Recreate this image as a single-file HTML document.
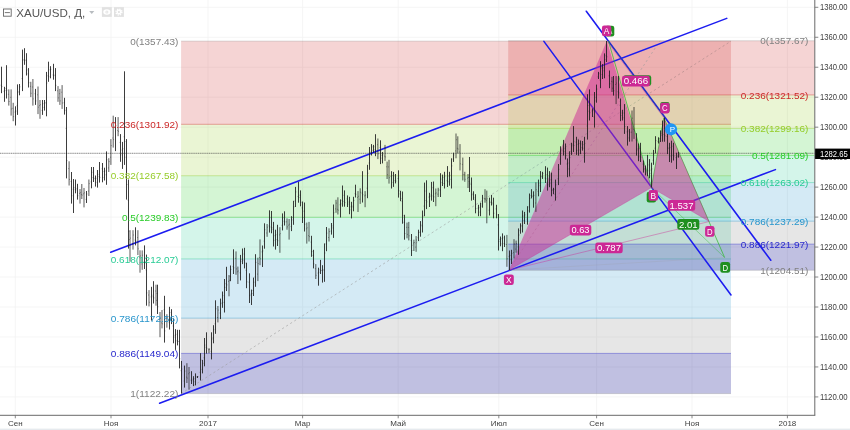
<!DOCTYPE html><html><head><meta charset="utf-8"><style>html,body{margin:0;padding:0;background:#fff;overflow:hidden}svg{display:block;opacity:0.999;will-change:transform}text{font-family:"Liberation Sans",sans-serif}</style></head><body>
<svg width="850" height="430" viewBox="0 0 850 430">
<rect width="850" height="430" fill="#fff"/>
<line x1="0" x2="814.8" y1="396.91" y2="396.91" stroke="#f2f2f2" stroke-width="0.8"/>
<line x1="0" x2="814.8" y1="366.94" y2="366.94" stroke="#f2f2f2" stroke-width="0.8"/>
<line x1="0" x2="814.8" y1="336.97" y2="336.97" stroke="#f2f2f2" stroke-width="0.8"/>
<line x1="0" x2="814.8" y1="307.00" y2="307.00" stroke="#f2f2f2" stroke-width="0.8"/>
<line x1="0" x2="814.8" y1="277.03" y2="277.03" stroke="#f2f2f2" stroke-width="0.8"/>
<line x1="0" x2="814.8" y1="247.06" y2="247.06" stroke="#f2f2f2" stroke-width="0.8"/>
<line x1="0" x2="814.8" y1="217.09" y2="217.09" stroke="#f2f2f2" stroke-width="0.8"/>
<line x1="0" x2="814.8" y1="187.12" y2="187.12" stroke="#f2f2f2" stroke-width="0.8"/>
<line x1="0" x2="814.8" y1="157.15" y2="157.15" stroke="#f2f2f2" stroke-width="0.8"/>
<line x1="0" x2="814.8" y1="127.18" y2="127.18" stroke="#f2f2f2" stroke-width="0.8"/>
<line x1="0" x2="814.8" y1="97.21" y2="97.21" stroke="#f2f2f2" stroke-width="0.8"/>
<line x1="0" x2="814.8" y1="67.24" y2="67.24" stroke="#f2f2f2" stroke-width="0.8"/>
<line x1="0" x2="814.8" y1="37.27" y2="37.27" stroke="#f2f2f2" stroke-width="0.8"/>
<line x1="0" x2="814.8" y1="7.30" y2="7.30" stroke="#f2f2f2" stroke-width="0.8"/>
<line x1="15.3" x2="15.3" y1="0" y2="415.3" stroke="#f2f2f2" stroke-width="0.8"/>
<line x1="111" x2="111" y1="0" y2="415.3" stroke="#f2f2f2" stroke-width="0.8"/>
<line x1="208" x2="208" y1="0" y2="415.3" stroke="#f2f2f2" stroke-width="0.8"/>
<line x1="302.6" x2="302.6" y1="0" y2="415.3" stroke="#f2f2f2" stroke-width="0.8"/>
<line x1="398.2" x2="398.2" y1="0" y2="415.3" stroke="#f2f2f2" stroke-width="0.8"/>
<line x1="498.8" x2="498.8" y1="0" y2="415.3" stroke="#f2f2f2" stroke-width="0.8"/>
<line x1="596.6" x2="596.6" y1="0" y2="415.3" stroke="#f2f2f2" stroke-width="0.8"/>
<line x1="692" x2="692" y1="0" y2="415.3" stroke="#f2f2f2" stroke-width="0.8"/>
<line x1="787.4" x2="787.4" y1="0" y2="415.3" stroke="#f2f2f2" stroke-width="0.8"/>
<rect x="181.1" y="41.12" width="549.90" height="83.18" fill="#cc2828" fill-opacity="0.2"/>
<rect x="181.1" y="124.30" width="549.90" height="51.46" fill="#95cc28" fill-opacity="0.2"/>
<rect x="181.1" y="175.76" width="549.90" height="41.58" fill="#28cc28" fill-opacity="0.2"/>
<rect x="181.1" y="217.34" width="549.90" height="41.60" fill="#28cc95" fill-opacity="0.2"/>
<rect x="181.1" y="258.94" width="549.90" height="59.21" fill="#2895cc" fill-opacity="0.2"/>
<rect x="181.1" y="318.15" width="549.90" height="75.43" fill="#808080" fill-opacity="0.2"/>
<rect x="181.1" y="353.39" width="549.90" height="40.19" fill="#2828cc" fill-opacity="0.2"/>
<line x1="181.1" x2="731" y1="41.12" y2="41.12" stroke="#808080" stroke-width="0.65" stroke-opacity="0.42"/>
<line x1="181.1" x2="731" y1="124.30" y2="124.30" stroke="#cc2828" stroke-width="0.65" stroke-opacity="0.6"/>
<line x1="181.1" x2="731" y1="175.76" y2="175.76" stroke="#95cc28" stroke-width="0.65" stroke-opacity="0.6"/>
<line x1="181.1" x2="731" y1="217.34" y2="217.34" stroke="#28cc28" stroke-width="0.65" stroke-opacity="0.6"/>
<line x1="181.1" x2="731" y1="258.94" y2="258.94" stroke="#28cc95" stroke-width="0.65" stroke-opacity="0.6"/>
<line x1="181.1" x2="731" y1="318.15" y2="318.15" stroke="#2895cc" stroke-width="0.65" stroke-opacity="0.6"/>
<line x1="181.1" x2="731" y1="353.39" y2="353.39" stroke="#2828cc" stroke-width="0.65" stroke-opacity="0.6"/>
<line x1="181.1" x2="731" y1="393.58" y2="393.58" stroke="#808080" stroke-width="0.65" stroke-opacity="0.42"/>
<line x1="181.1" y1="393.58332999999993" x2="731" y2="41.1211449999999" stroke="#999" stroke-width="0.7" stroke-dasharray="2.2 2.6" stroke-opacity="0.8"/>
<rect x="508.2" y="40.76" width="306.60" height="54.17" fill="#cc2828" fill-opacity="0.2"/>
<rect x="508.2" y="94.93" width="306.60" height="33.51" fill="#95cc28" fill-opacity="0.2"/>
<rect x="508.2" y="128.44" width="306.60" height="27.08" fill="#28cc28" fill-opacity="0.2"/>
<rect x="508.2" y="155.52" width="306.60" height="27.08" fill="#28cc95" fill-opacity="0.2"/>
<rect x="508.2" y="182.59" width="306.60" height="38.56" fill="#2895cc" fill-opacity="0.2"/>
<rect x="508.2" y="221.15" width="306.60" height="49.12" fill="#808080" fill-opacity="0.2"/>
<rect x="508.2" y="244.11" width="306.60" height="26.16" fill="#2828cc" fill-opacity="0.2"/>
<line x1="508.2" x2="814.8" y1="40.76" y2="40.76" stroke="#808080" stroke-width="0.65" stroke-opacity="0.42"/>
<line x1="508.2" x2="814.8" y1="94.93" y2="94.93" stroke="#cc2828" stroke-width="0.65" stroke-opacity="0.6"/>
<line x1="508.2" x2="814.8" y1="128.44" y2="128.44" stroke="#95cc28" stroke-width="0.65" stroke-opacity="0.6"/>
<line x1="508.2" x2="814.8" y1="155.52" y2="155.52" stroke="#28cc28" stroke-width="0.65" stroke-opacity="0.6"/>
<line x1="508.2" x2="814.8" y1="182.59" y2="182.59" stroke="#28cc95" stroke-width="0.65" stroke-opacity="0.6"/>
<line x1="508.2" x2="814.8" y1="221.15" y2="221.15" stroke="#2895cc" stroke-width="0.65" stroke-opacity="0.6"/>
<line x1="508.2" x2="814.8" y1="244.11" y2="244.11" stroke="#2828cc" stroke-width="0.65" stroke-opacity="0.6"/>
<line x1="508.2" x2="814.8" y1="270.27" y2="270.27" stroke="#808080" stroke-width="0.65" stroke-opacity="0.42"/>
<line x1="508.7" y1="270.271765" x2="660" y2="40.761504999999886" stroke="#999" stroke-width="0.7" stroke-dasharray="2.2 2.6" stroke-opacity="0.8"/>
<line x1="0" x2="814.8" y1="153.3" y2="153.3" stroke="#555" stroke-width="0.8" stroke-opacity="0.38"/>
<line x1="0" x2="814.8" y1="153.3" y2="153.3" stroke="#222" stroke-width="0.8" stroke-dasharray="1 1.2" stroke-opacity="0.45"/>
<line x1="110.7" y1="252.2" x2="726.7" y2="18.4" stroke="#1c1cf0" stroke-width="1.55" stroke-opacity="1" stroke-linecap="round"/>
<line x1="159.6" y1="403.2" x2="775.4" y2="169.6" stroke="#1c1cf0" stroke-width="1.55" stroke-opacity="1" stroke-linecap="round"/>
<line x1="586.3" y1="11.2" x2="770.8" y2="260.3" stroke="#1c1cf0" stroke-width="1.55" stroke-opacity="1" stroke-linecap="round"/>
<line x1="543.9" y1="41.4" x2="731" y2="295" stroke="#1c1cf0" stroke-width="1.55" stroke-opacity="1" stroke-linecap="round"/>
<polyline points="608.4,41.0 651.4,187.6 663.9,117.9 724.6,257.5" fill="none" stroke="#2db82d" stroke-width="0.8" stroke-opacity="0.9" stroke-linejoin="round"/>
<polyline points="651.4,187.6 724.6,257.5" fill="none" stroke="#2db82d" stroke-width="0.5" stroke-opacity="0.8" stroke-linejoin="round"/>
<polyline points="608.4,41.0 665.1,117.9" fill="none" stroke="#3a7a3a" stroke-width="0.7" stroke-opacity="0.55" stroke-linejoin="round"/>
<polyline points="509.0,270.1 724.6,257.5" fill="none" stroke="#999" stroke-width="0.4" stroke-opacity="0.5" stroke-linejoin="round"/>
<polygon points="509.0,270.1 606.8,41.0 651.4,187.6" fill="#cc2895" fill-opacity="0.5"/>
<polygon points="651.4,187.6 663.9,117.9 709.3,221.5" fill="#cc2895" fill-opacity="0.5"/>
<polyline points="509.0,270.1 651.4,187.6" fill="none" stroke="#cc2895" stroke-width="0.5" stroke-opacity="0.7" stroke-linejoin="round"/>
<polyline points="606.8,41.0 663.9,117.9" fill="none" stroke="#cc2895" stroke-width="0.5" stroke-opacity="0.7" stroke-linejoin="round"/>
<polyline points="651.4,187.6 709.3,221.5" fill="none" stroke="#cc2895" stroke-width="0.5" stroke-opacity="0.7" stroke-linejoin="round"/>
<polyline points="509.0,270.1 709.3,221.5" fill="none" stroke="#cc2895" stroke-width="0.6" stroke-opacity="0.7" stroke-linejoin="round"/>
<line x1="1.5" x2="1.5" y1="66.7" y2="93.2" stroke="#1a1a1a" stroke-width="0.85"/>
<line x1="1.5" x2="2.4" y1="86.6" y2="86.6" stroke="#1a1a1a" stroke-width="0.7" stroke-opacity="0.55"/>
<line x1="0.6" x2="1.5" y1="85.2" y2="85.2" stroke="#1a1a1a" stroke-width="0.7" stroke-opacity="0.55"/>
<line x1="4.5" x2="4.5" y1="86.8" y2="101.8" stroke="#1a1a1a" stroke-width="0.85"/>
<line x1="4.5" x2="5.4" y1="90.5" y2="90.5" stroke="#1a1a1a" stroke-width="0.7" stroke-opacity="0.55"/>
<line x1="3.6" x2="4.5" y1="91.3" y2="91.3" stroke="#1a1a1a" stroke-width="0.7" stroke-opacity="0.55"/>
<line x1="6.5" x2="6.5" y1="65.2" y2="98.5" stroke="#1a1a1a" stroke-width="0.85"/>
<line x1="6.5" x2="7.4" y1="90.2" y2="90.2" stroke="#1a1a1a" stroke-width="0.7" stroke-opacity="0.55"/>
<line x1="5.6" x2="6.5" y1="88.5" y2="88.5" stroke="#1a1a1a" stroke-width="0.7" stroke-opacity="0.55"/>
<line x1="8.8" x2="8.8" y1="89.4" y2="105.6" stroke="#1a1a1a" stroke-width="0.72"/>
<line x1="8.8" x2="9.7" y1="101.5" y2="101.5" stroke="#1a1a1a" stroke-width="0.7" stroke-opacity="0.55"/>
<line x1="7.9" x2="8.8" y1="94.3" y2="94.3" stroke="#1a1a1a" stroke-width="0.7" stroke-opacity="0.55"/>
<line x1="11.1" x2="11.1" y1="89.4" y2="115.6" stroke="#1a1a1a" stroke-width="0.72"/>
<line x1="11.1" x2="12.0" y1="109.0" y2="109.0" stroke="#1a1a1a" stroke-width="0.7" stroke-opacity="0.55"/>
<line x1="10.2" x2="11.1" y1="97.3" y2="97.3" stroke="#1a1a1a" stroke-width="0.7" stroke-opacity="0.55"/>
<line x1="13.2" x2="13.2" y1="102.8" y2="121.2" stroke="#1a1a1a" stroke-width="0.72"/>
<line x1="13.2" x2="14.1" y1="116.6" y2="116.6" stroke="#1a1a1a" stroke-width="0.7" stroke-opacity="0.55"/>
<line x1="12.3" x2="13.2" y1="108.3" y2="108.3" stroke="#1a1a1a" stroke-width="0.7" stroke-opacity="0.55"/>
<line x1="15.5" x2="15.5" y1="106.3" y2="125.5" stroke="#1a1a1a" stroke-width="0.85"/>
<line x1="15.5" x2="16.4" y1="111.1" y2="111.1" stroke="#1a1a1a" stroke-width="0.7" stroke-opacity="0.55"/>
<line x1="14.6" x2="15.5" y1="112.1" y2="112.1" stroke="#1a1a1a" stroke-width="0.7" stroke-opacity="0.55"/>
<line x1="17.5" x2="17.5" y1="84.4" y2="114.9" stroke="#1a1a1a" stroke-width="0.85"/>
<line x1="17.5" x2="18.4" y1="92.0" y2="92.0" stroke="#1a1a1a" stroke-width="0.7" stroke-opacity="0.55"/>
<line x1="16.6" x2="17.5" y1="105.8" y2="105.8" stroke="#1a1a1a" stroke-width="0.7" stroke-opacity="0.55"/>
<line x1="19.5" x2="19.5" y1="84.0" y2="95.3" stroke="#1a1a1a" stroke-width="0.85"/>
<line x1="19.5" x2="20.4" y1="86.8" y2="86.8" stroke="#1a1a1a" stroke-width="0.7" stroke-opacity="0.55"/>
<line x1="18.6" x2="19.5" y1="91.9" y2="91.9" stroke="#1a1a1a" stroke-width="0.7" stroke-opacity="0.55"/>
<line x1="22.5" x2="22.5" y1="49.6" y2="91.1" stroke="#1a1a1a" stroke-width="0.85"/>
<line x1="22.5" x2="23.4" y1="60.0" y2="60.0" stroke="#1a1a1a" stroke-width="0.7" stroke-opacity="0.55"/>
<line x1="21.6" x2="22.5" y1="78.6" y2="78.6" stroke="#1a1a1a" stroke-width="0.7" stroke-opacity="0.55"/>
<line x1="24.5" x2="24.5" y1="48.2" y2="64.8" stroke="#1a1a1a" stroke-width="0.85"/>
<line x1="24.5" x2="25.4" y1="60.6" y2="60.6" stroke="#1a1a1a" stroke-width="0.7" stroke-opacity="0.55"/>
<line x1="23.6" x2="24.5" y1="59.8" y2="59.8" stroke="#1a1a1a" stroke-width="0.7" stroke-opacity="0.55"/>
<line x1="26.5" x2="26.5" y1="53.2" y2="75.5" stroke="#1a1a1a" stroke-width="0.85"/>
<line x1="26.5" x2="27.4" y1="69.9" y2="69.9" stroke="#1a1a1a" stroke-width="0.7" stroke-opacity="0.55"/>
<line x1="25.6" x2="26.5" y1="59.9" y2="59.9" stroke="#1a1a1a" stroke-width="0.7" stroke-opacity="0.55"/>
<line x1="28.5" x2="28.5" y1="68.1" y2="87.5" stroke="#1a1a1a" stroke-width="0.85"/>
<line x1="28.5" x2="29.4" y1="82.7" y2="82.7" stroke="#1a1a1a" stroke-width="0.7" stroke-opacity="0.55"/>
<line x1="27.6" x2="28.5" y1="73.9" y2="73.9" stroke="#1a1a1a" stroke-width="0.7" stroke-opacity="0.55"/>
<line x1="30.8" x2="30.8" y1="81.8" y2="97.1" stroke="#1a1a1a" stroke-width="0.72"/>
<line x1="30.8" x2="31.7" y1="93.3" y2="93.3" stroke="#1a1a1a" stroke-width="0.7" stroke-opacity="0.55"/>
<line x1="29.9" x2="30.8" y1="86.4" y2="86.4" stroke="#1a1a1a" stroke-width="0.7" stroke-opacity="0.55"/>
<line x1="32.9" x2="32.9" y1="79.0" y2="105.6" stroke="#1a1a1a" stroke-width="0.72"/>
<line x1="32.9" x2="33.8" y1="98.9" y2="98.9" stroke="#1a1a1a" stroke-width="0.7" stroke-opacity="0.55"/>
<line x1="32.0" x2="32.9" y1="87.0" y2="87.0" stroke="#1a1a1a" stroke-width="0.7" stroke-opacity="0.55"/>
<line x1="35.5" x2="35.5" y1="88.9" y2="104.9" stroke="#1a1a1a" stroke-width="0.85"/>
<line x1="35.5" x2="36.4" y1="100.9" y2="100.9" stroke="#1a1a1a" stroke-width="0.7" stroke-opacity="0.55"/>
<line x1="34.6" x2="35.5" y1="93.7" y2="93.7" stroke="#1a1a1a" stroke-width="0.7" stroke-opacity="0.55"/>
<line x1="38.0" x2="38.0" y1="86.5" y2="114.1" stroke="#1a1a1a" stroke-width="0.72"/>
<line x1="38.0" x2="38.9" y1="107.2" y2="107.2" stroke="#1a1a1a" stroke-width="0.7" stroke-opacity="0.55"/>
<line x1="37.1" x2="38.0" y1="94.8" y2="94.8" stroke="#1a1a1a" stroke-width="0.7" stroke-opacity="0.55"/>
<line x1="40.0" x2="40.0" y1="100.0" y2="118.8" stroke="#1a1a1a" stroke-width="0.72"/>
<line x1="40.0" x2="40.9" y1="104.7" y2="104.7" stroke="#1a1a1a" stroke-width="0.7" stroke-opacity="0.55"/>
<line x1="39.1" x2="40.0" y1="105.6" y2="105.6" stroke="#1a1a1a" stroke-width="0.7" stroke-opacity="0.55"/>
<line x1="42.5" x2="42.5" y1="100.0" y2="114.9" stroke="#1a1a1a" stroke-width="0.85"/>
<line x1="42.5" x2="43.4" y1="103.7" y2="103.7" stroke="#1a1a1a" stroke-width="0.7" stroke-opacity="0.55"/>
<line x1="41.6" x2="42.5" y1="110.4" y2="110.4" stroke="#1a1a1a" stroke-width="0.7" stroke-opacity="0.55"/>
<line x1="44.5" x2="44.5" y1="100.0" y2="110.6" stroke="#1a1a1a" stroke-width="0.85"/>
<line x1="44.5" x2="45.4" y1="102.7" y2="102.7" stroke="#1a1a1a" stroke-width="0.7" stroke-opacity="0.55"/>
<line x1="43.6" x2="44.5" y1="107.4" y2="107.4" stroke="#1a1a1a" stroke-width="0.7" stroke-opacity="0.55"/>
<line x1="46.5" x2="46.5" y1="71.9" y2="116.3" stroke="#1a1a1a" stroke-width="0.85"/>
<line x1="46.5" x2="47.4" y1="83.0" y2="83.0" stroke="#1a1a1a" stroke-width="0.7" stroke-opacity="0.55"/>
<line x1="45.6" x2="46.5" y1="103.0" y2="103.0" stroke="#1a1a1a" stroke-width="0.7" stroke-opacity="0.55"/>
<line x1="48.5" x2="48.5" y1="61.7" y2="81.8" stroke="#1a1a1a" stroke-width="0.85"/>
<line x1="48.5" x2="49.4" y1="76.8" y2="76.8" stroke="#1a1a1a" stroke-width="0.7" stroke-opacity="0.55"/>
<line x1="47.6" x2="48.5" y1="75.8" y2="75.8" stroke="#1a1a1a" stroke-width="0.7" stroke-opacity="0.55"/>
<line x1="50.5" x2="50.5" y1="66.2" y2="78.3" stroke="#1a1a1a" stroke-width="0.85"/>
<line x1="50.5" x2="51.4" y1="69.2" y2="69.2" stroke="#1a1a1a" stroke-width="0.7" stroke-opacity="0.55"/>
<line x1="49.6" x2="50.5" y1="69.8" y2="69.8" stroke="#1a1a1a" stroke-width="0.7" stroke-opacity="0.55"/>
<line x1="53.5" x2="53.5" y1="63.8" y2="79.7" stroke="#1a1a1a" stroke-width="0.85"/>
<line x1="53.5" x2="54.4" y1="75.7" y2="75.7" stroke="#1a1a1a" stroke-width="0.7" stroke-opacity="0.55"/>
<line x1="52.6" x2="53.5" y1="74.9" y2="74.9" stroke="#1a1a1a" stroke-width="0.7" stroke-opacity="0.55"/>
<line x1="55.5" x2="55.5" y1="68.1" y2="91.1" stroke="#1a1a1a" stroke-width="0.85"/>
<line x1="55.5" x2="56.4" y1="85.3" y2="85.3" stroke="#1a1a1a" stroke-width="0.7" stroke-opacity="0.55"/>
<line x1="54.6" x2="55.5" y1="75.0" y2="75.0" stroke="#1a1a1a" stroke-width="0.7" stroke-opacity="0.55"/>
<line x1="58.0" x2="58.0" y1="86.1" y2="101.8" stroke="#1a1a1a" stroke-width="0.72"/>
<line x1="58.0" x2="58.9" y1="97.9" y2="97.9" stroke="#1a1a1a" stroke-width="0.7" stroke-opacity="0.55"/>
<line x1="57.1" x2="58.0" y1="90.8" y2="90.8" stroke="#1a1a1a" stroke-width="0.7" stroke-opacity="0.55"/>
<line x1="59.9" x2="59.9" y1="88.9" y2="104.9" stroke="#1a1a1a" stroke-width="0.72"/>
<line x1="59.9" x2="60.8" y1="100.9" y2="100.9" stroke="#1a1a1a" stroke-width="0.7" stroke-opacity="0.55"/>
<line x1="59.0" x2="59.9" y1="93.7" y2="93.7" stroke="#1a1a1a" stroke-width="0.7" stroke-opacity="0.55"/>
<line x1="62.1" x2="62.1" y1="85.1" y2="108.9" stroke="#1a1a1a" stroke-width="0.72"/>
<line x1="62.1" x2="63.0" y1="103.0" y2="103.0" stroke="#1a1a1a" stroke-width="0.7" stroke-opacity="0.55"/>
<line x1="61.2" x2="62.1" y1="92.2" y2="92.2" stroke="#1a1a1a" stroke-width="0.7" stroke-opacity="0.55"/>
<line x1="64.5" x2="64.5" y1="97.8" y2="114.6" stroke="#1a1a1a" stroke-width="0.85"/>
<line x1="64.5" x2="65.4" y1="110.4" y2="110.4" stroke="#1a1a1a" stroke-width="0.7" stroke-opacity="0.55"/>
<line x1="63.6" x2="64.5" y1="102.8" y2="102.8" stroke="#1a1a1a" stroke-width="0.7" stroke-opacity="0.55"/>
<line x1="66.5" x2="66.5" y1="107.0" y2="178.4" stroke="#1a1a1a" stroke-width="0.85"/>
<line x1="66.5" x2="67.4" y1="160.6" y2="160.6" stroke="#1a1a1a" stroke-width="0.7" stroke-opacity="0.55"/>
<line x1="65.6" x2="66.5" y1="128.4" y2="128.4" stroke="#1a1a1a" stroke-width="0.7" stroke-opacity="0.55"/>
<line x1="69.1" x2="69.1" y1="161.3" y2="185.5" stroke="#1a1a1a" stroke-width="0.72"/>
<line x1="69.1" x2="70.0" y1="179.4" y2="179.4" stroke="#1a1a1a" stroke-width="0.7" stroke-opacity="0.55"/>
<line x1="68.2" x2="69.1" y1="168.6" y2="168.6" stroke="#1a1a1a" stroke-width="0.7" stroke-opacity="0.55"/>
<line x1="71.5" x2="71.5" y1="172.0" y2="203.6" stroke="#1a1a1a" stroke-width="0.85"/>
<line x1="71.5" x2="72.4" y1="195.7" y2="195.7" stroke="#1a1a1a" stroke-width="0.7" stroke-opacity="0.55"/>
<line x1="70.6" x2="71.5" y1="181.5" y2="181.5" stroke="#1a1a1a" stroke-width="0.7" stroke-opacity="0.55"/>
<line x1="73.5" x2="73.5" y1="179.0" y2="213.0" stroke="#1a1a1a" stroke-width="0.85"/>
<line x1="73.5" x2="74.4" y1="187.5" y2="187.5" stroke="#1a1a1a" stroke-width="0.7" stroke-opacity="0.55"/>
<line x1="72.6" x2="73.5" y1="189.2" y2="189.2" stroke="#1a1a1a" stroke-width="0.7" stroke-opacity="0.55"/>
<line x1="75.5" x2="75.5" y1="179.5" y2="193.3" stroke="#1a1a1a" stroke-width="0.85"/>
<line x1="75.5" x2="76.4" y1="189.9" y2="189.9" stroke="#1a1a1a" stroke-width="0.7" stroke-opacity="0.55"/>
<line x1="74.6" x2="75.5" y1="189.2" y2="189.2" stroke="#1a1a1a" stroke-width="0.7" stroke-opacity="0.55"/>
<line x1="77.5" x2="77.5" y1="183.8" y2="199.6" stroke="#1a1a1a" stroke-width="0.85"/>
<line x1="77.5" x2="78.4" y1="195.7" y2="195.7" stroke="#1a1a1a" stroke-width="0.7" stroke-opacity="0.55"/>
<line x1="76.6" x2="77.5" y1="188.5" y2="188.5" stroke="#1a1a1a" stroke-width="0.7" stroke-opacity="0.55"/>
<line x1="80.0" x2="80.0" y1="189.0" y2="203.6" stroke="#1a1a1a" stroke-width="0.72"/>
<line x1="80.0" x2="80.9" y1="192.7" y2="192.7" stroke="#1a1a1a" stroke-width="0.7" stroke-opacity="0.55"/>
<line x1="79.1" x2="80.0" y1="193.4" y2="193.4" stroke="#1a1a1a" stroke-width="0.7" stroke-opacity="0.55"/>
<line x1="81.8" x2="81.8" y1="184.0" y2="199.0" stroke="#1a1a1a" stroke-width="0.72"/>
<line x1="81.8" x2="82.7" y1="195.2" y2="195.2" stroke="#1a1a1a" stroke-width="0.7" stroke-opacity="0.55"/>
<line x1="80.9" x2="81.8" y1="194.5" y2="194.5" stroke="#1a1a1a" stroke-width="0.7" stroke-opacity="0.55"/>
<line x1="84.0" x2="84.0" y1="188.0" y2="207.4" stroke="#1a1a1a" stroke-width="0.72"/>
<line x1="84.0" x2="84.9" y1="192.8" y2="192.8" stroke="#1a1a1a" stroke-width="0.7" stroke-opacity="0.55"/>
<line x1="83.1" x2="84.0" y1="193.8" y2="193.8" stroke="#1a1a1a" stroke-width="0.7" stroke-opacity="0.55"/>
<line x1="86.5" x2="86.5" y1="191.0" y2="203.0" stroke="#1a1a1a" stroke-width="0.85"/>
<line x1="86.5" x2="87.4" y1="194.0" y2="194.0" stroke="#1a1a1a" stroke-width="0.7" stroke-opacity="0.55"/>
<line x1="85.6" x2="86.5" y1="199.4" y2="199.4" stroke="#1a1a1a" stroke-width="0.7" stroke-opacity="0.55"/>
<line x1="88.9" x2="88.9" y1="179.5" y2="196.0" stroke="#1a1a1a" stroke-width="0.72"/>
<line x1="88.9" x2="89.8" y1="183.6" y2="183.6" stroke="#1a1a1a" stroke-width="0.7" stroke-opacity="0.55"/>
<line x1="88.0" x2="88.9" y1="191.1" y2="191.1" stroke="#1a1a1a" stroke-width="0.7" stroke-opacity="0.55"/>
<line x1="91.5" x2="91.5" y1="167.0" y2="188.3" stroke="#1a1a1a" stroke-width="0.85"/>
<line x1="91.5" x2="92.4" y1="172.3" y2="172.3" stroke="#1a1a1a" stroke-width="0.7" stroke-opacity="0.55"/>
<line x1="90.6" x2="91.5" y1="181.9" y2="181.9" stroke="#1a1a1a" stroke-width="0.7" stroke-opacity="0.55"/>
<line x1="93.5" x2="93.5" y1="167.0" y2="182.0" stroke="#1a1a1a" stroke-width="0.85"/>
<line x1="93.5" x2="94.4" y1="178.2" y2="178.2" stroke="#1a1a1a" stroke-width="0.7" stroke-opacity="0.55"/>
<line x1="92.6" x2="93.5" y1="177.5" y2="177.5" stroke="#1a1a1a" stroke-width="0.7" stroke-opacity="0.55"/>
<line x1="95.5" x2="95.5" y1="175.5" y2="186.6" stroke="#1a1a1a" stroke-width="0.85"/>
<line x1="95.5" x2="96.4" y1="178.3" y2="178.3" stroke="#1a1a1a" stroke-width="0.7" stroke-opacity="0.55"/>
<line x1="94.6" x2="95.5" y1="178.8" y2="178.8" stroke="#1a1a1a" stroke-width="0.7" stroke-opacity="0.55"/>
<line x1="97.5" x2="97.5" y1="170.0" y2="187.6" stroke="#1a1a1a" stroke-width="0.85"/>
<line x1="97.5" x2="98.4" y1="174.4" y2="174.4" stroke="#1a1a1a" stroke-width="0.7" stroke-opacity="0.55"/>
<line x1="96.6" x2="97.5" y1="182.3" y2="182.3" stroke="#1a1a1a" stroke-width="0.7" stroke-opacity="0.55"/>
<line x1="99.5" x2="99.5" y1="162.0" y2="182.6" stroke="#1a1a1a" stroke-width="0.85"/>
<line x1="99.5" x2="100.4" y1="177.4" y2="177.4" stroke="#1a1a1a" stroke-width="0.7" stroke-opacity="0.55"/>
<line x1="98.6" x2="99.5" y1="176.4" y2="176.4" stroke="#1a1a1a" stroke-width="0.7" stroke-opacity="0.55"/>
<line x1="102.5" x2="102.5" y1="163.0" y2="182.3" stroke="#1a1a1a" stroke-width="0.85"/>
<line x1="102.5" x2="103.4" y1="177.5" y2="177.5" stroke="#1a1a1a" stroke-width="0.7" stroke-opacity="0.55"/>
<line x1="101.6" x2="102.5" y1="168.8" y2="168.8" stroke="#1a1a1a" stroke-width="0.7" stroke-opacity="0.55"/>
<line x1="104.5" x2="104.5" y1="167.7" y2="180.5" stroke="#1a1a1a" stroke-width="0.85"/>
<line x1="104.5" x2="105.4" y1="170.9" y2="170.9" stroke="#1a1a1a" stroke-width="0.7" stroke-opacity="0.55"/>
<line x1="103.6" x2="104.5" y1="171.5" y2="171.5" stroke="#1a1a1a" stroke-width="0.7" stroke-opacity="0.55"/>
<line x1="106.5" x2="106.5" y1="151.4" y2="184.8" stroke="#1a1a1a" stroke-width="0.85"/>
<line x1="106.5" x2="107.4" y1="159.8" y2="159.8" stroke="#1a1a1a" stroke-width="0.7" stroke-opacity="0.55"/>
<line x1="105.6" x2="106.5" y1="174.8" y2="174.8" stroke="#1a1a1a" stroke-width="0.7" stroke-opacity="0.55"/>
<line x1="108.8" x2="108.8" y1="158.2" y2="172.0" stroke="#1a1a1a" stroke-width="0.72"/>
<line x1="108.8" x2="109.7" y1="161.6" y2="161.6" stroke="#1a1a1a" stroke-width="0.7" stroke-opacity="0.55"/>
<line x1="107.9" x2="108.8" y1="167.9" y2="167.9" stroke="#1a1a1a" stroke-width="0.7" stroke-opacity="0.55"/>
<line x1="110.9" x2="110.9" y1="139.1" y2="164.9" stroke="#1a1a1a" stroke-width="0.72"/>
<line x1="110.9" x2="111.8" y1="145.6" y2="145.6" stroke="#1a1a1a" stroke-width="0.7" stroke-opacity="0.55"/>
<line x1="110.0" x2="110.9" y1="157.2" y2="157.2" stroke="#1a1a1a" stroke-width="0.7" stroke-opacity="0.55"/>
<line x1="113.2" x2="113.2" y1="115.7" y2="147.6" stroke="#1a1a1a" stroke-width="0.72"/>
<line x1="113.2" x2="114.1" y1="139.6" y2="139.6" stroke="#1a1a1a" stroke-width="0.7" stroke-opacity="0.55"/>
<line x1="112.3" x2="113.2" y1="138.0" y2="138.0" stroke="#1a1a1a" stroke-width="0.7" stroke-opacity="0.55"/>
<line x1="115.5" x2="115.5" y1="117.1" y2="151.1" stroke="#1a1a1a" stroke-width="0.85"/>
<line x1="115.5" x2="116.4" y1="125.6" y2="125.6" stroke="#1a1a1a" stroke-width="0.7" stroke-opacity="0.55"/>
<line x1="114.6" x2="115.5" y1="127.3" y2="127.3" stroke="#1a1a1a" stroke-width="0.7" stroke-opacity="0.55"/>
<line x1="118.1" x2="118.1" y1="117.1" y2="136.2" stroke="#1a1a1a" stroke-width="0.72"/>
<line x1="118.1" x2="119.0" y1="131.4" y2="131.4" stroke="#1a1a1a" stroke-width="0.7" stroke-opacity="0.55"/>
<line x1="117.2" x2="118.1" y1="130.5" y2="130.5" stroke="#1a1a1a" stroke-width="0.7" stroke-opacity="0.55"/>
<line x1="120.5" x2="120.5" y1="134.1" y2="161.8" stroke="#1a1a1a" stroke-width="0.85"/>
<line x1="120.5" x2="121.4" y1="154.9" y2="154.9" stroke="#1a1a1a" stroke-width="0.7" stroke-opacity="0.55"/>
<line x1="119.6" x2="120.5" y1="142.4" y2="142.4" stroke="#1a1a1a" stroke-width="0.7" stroke-opacity="0.55"/>
<line x1="122.5" x2="122.5" y1="141.9" y2="168.9" stroke="#1a1a1a" stroke-width="0.85"/>
<line x1="122.5" x2="123.4" y1="148.7" y2="148.7" stroke="#1a1a1a" stroke-width="0.7" stroke-opacity="0.55"/>
<line x1="121.6" x2="122.5" y1="150.0" y2="150.0" stroke="#1a1a1a" stroke-width="0.7" stroke-opacity="0.55"/>
<line x1="124.5" x2="124.5" y1="71.3" y2="164.9" stroke="#1a1a1a" stroke-width="0.85"/>
<line x1="124.5" x2="125.4" y1="141.5" y2="141.5" stroke="#1a1a1a" stroke-width="0.7" stroke-opacity="0.55"/>
<line x1="123.6" x2="124.5" y1="136.8" y2="136.8" stroke="#1a1a1a" stroke-width="0.7" stroke-opacity="0.55"/>
<line x1="126.5" x2="126.5" y1="139.1" y2="199.6" stroke="#1a1a1a" stroke-width="0.85"/>
<line x1="126.5" x2="127.4" y1="184.5" y2="184.5" stroke="#1a1a1a" stroke-width="0.7" stroke-opacity="0.55"/>
<line x1="125.6" x2="126.5" y1="157.2" y2="157.2" stroke="#1a1a1a" stroke-width="0.7" stroke-opacity="0.55"/>
<line x1="128.5" x2="128.5" y1="179.5" y2="248.6" stroke="#1a1a1a" stroke-width="0.85"/>
<line x1="128.5" x2="129.4" y1="231.3" y2="231.3" stroke="#1a1a1a" stroke-width="0.7" stroke-opacity="0.55"/>
<line x1="127.6" x2="128.5" y1="200.2" y2="200.2" stroke="#1a1a1a" stroke-width="0.7" stroke-opacity="0.55"/>
<line x1="130.0" x2="130.0" y1="230.2" y2="261.7" stroke="#1a1a1a" stroke-width="0.72"/>
<line x1="130.0" x2="130.9" y1="238.1" y2="238.1" stroke="#1a1a1a" stroke-width="0.7" stroke-opacity="0.55"/>
<line x1="129.1" x2="130.0" y1="239.6" y2="239.6" stroke="#1a1a1a" stroke-width="0.7" stroke-opacity="0.55"/>
<line x1="133.0" x2="133.0" y1="230.2" y2="249.6" stroke="#1a1a1a" stroke-width="0.72"/>
<line x1="133.0" x2="133.9" y1="235.0" y2="235.0" stroke="#1a1a1a" stroke-width="0.7" stroke-opacity="0.55"/>
<line x1="132.1" x2="133.0" y1="243.8" y2="243.8" stroke="#1a1a1a" stroke-width="0.7" stroke-opacity="0.55"/>
<line x1="135.5" x2="135.5" y1="227.3" y2="245.4" stroke="#1a1a1a" stroke-width="0.85"/>
<line x1="135.5" x2="136.4" y1="240.9" y2="240.9" stroke="#1a1a1a" stroke-width="0.7" stroke-opacity="0.55"/>
<line x1="134.6" x2="135.5" y1="240.0" y2="240.0" stroke="#1a1a1a" stroke-width="0.7" stroke-opacity="0.55"/>
<line x1="137.9" x2="137.9" y1="230.2" y2="255.0" stroke="#1a1a1a" stroke-width="0.72"/>
<line x1="137.9" x2="138.8" y1="248.8" y2="248.8" stroke="#1a1a1a" stroke-width="0.7" stroke-opacity="0.55"/>
<line x1="137.0" x2="137.9" y1="237.6" y2="237.6" stroke="#1a1a1a" stroke-width="0.7" stroke-opacity="0.55"/>
<line x1="140.0" x2="140.0" y1="250.3" y2="272.7" stroke="#1a1a1a" stroke-width="0.72"/>
<line x1="140.0" x2="140.9" y1="255.9" y2="255.9" stroke="#1a1a1a" stroke-width="0.7" stroke-opacity="0.55"/>
<line x1="139.1" x2="140.0" y1="257.0" y2="257.0" stroke="#1a1a1a" stroke-width="0.7" stroke-opacity="0.55"/>
<line x1="142.2" x2="142.2" y1="250.4" y2="269.8" stroke="#1a1a1a" stroke-width="0.72"/>
<line x1="142.2" x2="143.1" y1="255.2" y2="255.2" stroke="#1a1a1a" stroke-width="0.7" stroke-opacity="0.55"/>
<line x1="141.3" x2="142.2" y1="264.0" y2="264.0" stroke="#1a1a1a" stroke-width="0.7" stroke-opacity="0.55"/>
<line x1="144.5" x2="144.5" y1="245.4" y2="269.0" stroke="#1a1a1a" stroke-width="0.85"/>
<line x1="144.5" x2="145.4" y1="263.1" y2="263.1" stroke="#1a1a1a" stroke-width="0.7" stroke-opacity="0.55"/>
<line x1="143.6" x2="144.5" y1="261.9" y2="261.9" stroke="#1a1a1a" stroke-width="0.7" stroke-opacity="0.55"/>
<line x1="146.5" x2="146.5" y1="254.6" y2="305.7" stroke="#1a1a1a" stroke-width="0.85"/>
<line x1="146.5" x2="147.4" y1="292.9" y2="292.9" stroke="#1a1a1a" stroke-width="0.7" stroke-opacity="0.55"/>
<line x1="145.6" x2="146.5" y1="269.9" y2="269.9" stroke="#1a1a1a" stroke-width="0.7" stroke-opacity="0.55"/>
<line x1="149.0" x2="149.0" y1="290.1" y2="306.4" stroke="#1a1a1a" stroke-width="0.72"/>
<line x1="149.0" x2="149.9" y1="302.3" y2="302.3" stroke="#1a1a1a" stroke-width="0.7" stroke-opacity="0.55"/>
<line x1="148.1" x2="149.0" y1="295.0" y2="295.0" stroke="#1a1a1a" stroke-width="0.7" stroke-opacity="0.55"/>
<line x1="151.5" x2="151.5" y1="286.8" y2="320.6" stroke="#1a1a1a" stroke-width="0.85"/>
<line x1="151.5" x2="152.4" y1="295.2" y2="295.2" stroke="#1a1a1a" stroke-width="0.7" stroke-opacity="0.55"/>
<line x1="150.6" x2="151.5" y1="296.9" y2="296.9" stroke="#1a1a1a" stroke-width="0.7" stroke-opacity="0.55"/>
<line x1="153.5" x2="153.5" y1="281.2" y2="303.5" stroke="#1a1a1a" stroke-width="0.85"/>
<line x1="153.5" x2="154.4" y1="297.9" y2="297.9" stroke="#1a1a1a" stroke-width="0.7" stroke-opacity="0.55"/>
<line x1="152.6" x2="153.5" y1="296.8" y2="296.8" stroke="#1a1a1a" stroke-width="0.7" stroke-opacity="0.55"/>
<line x1="156.0" x2="156.0" y1="284.7" y2="305.7" stroke="#1a1a1a" stroke-width="0.72"/>
<line x1="156.0" x2="156.9" y1="300.4" y2="300.4" stroke="#1a1a1a" stroke-width="0.7" stroke-opacity="0.55"/>
<line x1="155.1" x2="156.0" y1="291.0" y2="291.0" stroke="#1a1a1a" stroke-width="0.7" stroke-opacity="0.55"/>
<line x1="157.5" x2="157.5" y1="284.7" y2="314.0" stroke="#1a1a1a" stroke-width="0.85"/>
<line x1="157.5" x2="158.4" y1="306.7" y2="306.7" stroke="#1a1a1a" stroke-width="0.7" stroke-opacity="0.55"/>
<line x1="156.6" x2="157.5" y1="293.5" y2="293.5" stroke="#1a1a1a" stroke-width="0.7" stroke-opacity="0.55"/>
<line x1="160.0" x2="160.0" y1="312.0" y2="337.2" stroke="#1a1a1a" stroke-width="0.72"/>
<line x1="160.0" x2="160.9" y1="318.3" y2="318.3" stroke="#1a1a1a" stroke-width="0.7" stroke-opacity="0.55"/>
<line x1="159.1" x2="160.0" y1="319.6" y2="319.6" stroke="#1a1a1a" stroke-width="0.7" stroke-opacity="0.55"/>
<line x1="162.0" x2="162.0" y1="310.0" y2="328.4" stroke="#1a1a1a" stroke-width="0.72"/>
<line x1="162.0" x2="162.9" y1="323.8" y2="323.8" stroke="#1a1a1a" stroke-width="0.7" stroke-opacity="0.55"/>
<line x1="161.1" x2="162.0" y1="322.9" y2="322.9" stroke="#1a1a1a" stroke-width="0.7" stroke-opacity="0.55"/>
<line x1="164.5" x2="164.5" y1="295.8" y2="342.6" stroke="#1a1a1a" stroke-width="0.85"/>
<line x1="164.5" x2="165.4" y1="330.9" y2="330.9" stroke="#1a1a1a" stroke-width="0.7" stroke-opacity="0.55"/>
<line x1="163.6" x2="164.5" y1="309.8" y2="309.8" stroke="#1a1a1a" stroke-width="0.7" stroke-opacity="0.55"/>
<line x1="166.9" x2="166.9" y1="314.2" y2="327.7" stroke="#1a1a1a" stroke-width="0.72"/>
<line x1="166.9" x2="167.8" y1="317.6" y2="317.6" stroke="#1a1a1a" stroke-width="0.7" stroke-opacity="0.55"/>
<line x1="166.0" x2="166.9" y1="318.2" y2="318.2" stroke="#1a1a1a" stroke-width="0.7" stroke-opacity="0.55"/>
<line x1="169.5" x2="169.5" y1="306.8" y2="329.5" stroke="#1a1a1a" stroke-width="0.85"/>
<line x1="169.5" x2="170.4" y1="312.5" y2="312.5" stroke="#1a1a1a" stroke-width="0.7" stroke-opacity="0.55"/>
<line x1="168.6" x2="169.5" y1="322.7" y2="322.7" stroke="#1a1a1a" stroke-width="0.7" stroke-opacity="0.55"/>
<line x1="171.5" x2="171.5" y1="309.2" y2="324.1" stroke="#1a1a1a" stroke-width="0.85"/>
<line x1="171.5" x2="172.4" y1="320.4" y2="320.4" stroke="#1a1a1a" stroke-width="0.7" stroke-opacity="0.55"/>
<line x1="170.6" x2="171.5" y1="319.6" y2="319.6" stroke="#1a1a1a" stroke-width="0.7" stroke-opacity="0.55"/>
<line x1="173.5" x2="173.5" y1="318.4" y2="343.3" stroke="#1a1a1a" stroke-width="0.85"/>
<line x1="173.5" x2="174.4" y1="337.1" y2="337.1" stroke="#1a1a1a" stroke-width="0.7" stroke-opacity="0.55"/>
<line x1="172.6" x2="173.5" y1="325.9" y2="325.9" stroke="#1a1a1a" stroke-width="0.7" stroke-opacity="0.55"/>
<line x1="175.5" x2="175.5" y1="329.1" y2="349.9" stroke="#1a1a1a" stroke-width="0.85"/>
<line x1="175.5" x2="176.4" y1="334.3" y2="334.3" stroke="#1a1a1a" stroke-width="0.7" stroke-opacity="0.55"/>
<line x1="174.6" x2="175.5" y1="335.3" y2="335.3" stroke="#1a1a1a" stroke-width="0.7" stroke-opacity="0.55"/>
<line x1="177.5" x2="177.5" y1="329.8" y2="345.4" stroke="#1a1a1a" stroke-width="0.85"/>
<line x1="177.5" x2="178.4" y1="341.5" y2="341.5" stroke="#1a1a1a" stroke-width="0.7" stroke-opacity="0.55"/>
<line x1="176.6" x2="177.5" y1="340.7" y2="340.7" stroke="#1a1a1a" stroke-width="0.7" stroke-opacity="0.55"/>
<line x1="179.5" x2="179.5" y1="329.8" y2="368.4" stroke="#1a1a1a" stroke-width="0.85"/>
<line x1="179.5" x2="180.4" y1="358.8" y2="358.8" stroke="#1a1a1a" stroke-width="0.7" stroke-opacity="0.55"/>
<line x1="178.6" x2="179.5" y1="341.4" y2="341.4" stroke="#1a1a1a" stroke-width="0.7" stroke-opacity="0.55"/>
<line x1="181.5" x2="181.5" y1="360.9" y2="393.5" stroke="#1a1a1a" stroke-width="0.85"/>
<line x1="181.5" x2="182.4" y1="369.0" y2="369.0" stroke="#1a1a1a" stroke-width="0.7" stroke-opacity="0.55"/>
<line x1="180.6" x2="181.5" y1="370.7" y2="370.7" stroke="#1a1a1a" stroke-width="0.7" stroke-opacity="0.55"/>
<line x1="184.5" x2="184.5" y1="365.6" y2="387.6" stroke="#1a1a1a" stroke-width="0.85"/>
<line x1="184.5" x2="185.4" y1="371.1" y2="371.1" stroke="#1a1a1a" stroke-width="0.7" stroke-opacity="0.55"/>
<line x1="183.6" x2="184.5" y1="381.0" y2="381.0" stroke="#1a1a1a" stroke-width="0.7" stroke-opacity="0.55"/>
<line x1="186.9" x2="186.9" y1="363.2" y2="383.0" stroke="#1a1a1a" stroke-width="0.72"/>
<line x1="186.9" x2="187.8" y1="378.1" y2="378.1" stroke="#1a1a1a" stroke-width="0.7" stroke-opacity="0.55"/>
<line x1="186.0" x2="186.9" y1="377.1" y2="377.1" stroke="#1a1a1a" stroke-width="0.7" stroke-opacity="0.55"/>
<line x1="189.0" x2="189.0" y1="367.0" y2="389.7" stroke="#1a1a1a" stroke-width="0.72"/>
<line x1="189.0" x2="189.9" y1="372.7" y2="372.7" stroke="#1a1a1a" stroke-width="0.7" stroke-opacity="0.55"/>
<line x1="188.1" x2="189.0" y1="373.8" y2="373.8" stroke="#1a1a1a" stroke-width="0.7" stroke-opacity="0.55"/>
<line x1="191.5" x2="191.5" y1="371.2" y2="384.0" stroke="#1a1a1a" stroke-width="0.85"/>
<line x1="191.5" x2="192.4" y1="380.8" y2="380.8" stroke="#1a1a1a" stroke-width="0.7" stroke-opacity="0.55"/>
<line x1="190.6" x2="191.5" y1="380.2" y2="380.2" stroke="#1a1a1a" stroke-width="0.7" stroke-opacity="0.55"/>
<line x1="193.5" x2="193.5" y1="376.2" y2="386.1" stroke="#1a1a1a" stroke-width="0.85"/>
<line x1="193.5" x2="194.4" y1="378.7" y2="378.7" stroke="#1a1a1a" stroke-width="0.7" stroke-opacity="0.55"/>
<line x1="192.6" x2="193.5" y1="379.2" y2="379.2" stroke="#1a1a1a" stroke-width="0.7" stroke-opacity="0.55"/>
<line x1="195.5" x2="195.5" y1="373.4" y2="385.4" stroke="#1a1a1a" stroke-width="0.85"/>
<line x1="195.5" x2="196.4" y1="376.4" y2="376.4" stroke="#1a1a1a" stroke-width="0.7" stroke-opacity="0.55"/>
<line x1="194.6" x2="195.5" y1="381.8" y2="381.8" stroke="#1a1a1a" stroke-width="0.7" stroke-opacity="0.55"/>
<line x1="197.5" x2="197.5" y1="376.0" y2="378.0" stroke="#1a1a1a" stroke-width="0.85"/>
<line x1="197.5" x2="198.4" y1="376.5" y2="376.5" stroke="#1a1a1a" stroke-width="0.7" stroke-opacity="0.55"/>
<line x1="196.6" x2="197.5" y1="377.4" y2="377.4" stroke="#1a1a1a" stroke-width="0.7" stroke-opacity="0.55"/>
<line x1="200.5" x2="200.5" y1="353.2" y2="380.5" stroke="#1a1a1a" stroke-width="0.85"/>
<line x1="200.5" x2="201.4" y1="360.0" y2="360.0" stroke="#1a1a1a" stroke-width="0.7" stroke-opacity="0.55"/>
<line x1="199.6" x2="200.5" y1="372.3" y2="372.3" stroke="#1a1a1a" stroke-width="0.7" stroke-opacity="0.55"/>
<line x1="202.5" x2="202.5" y1="359.9" y2="373.4" stroke="#1a1a1a" stroke-width="0.85"/>
<line x1="202.5" x2="203.4" y1="363.3" y2="363.3" stroke="#1a1a1a" stroke-width="0.7" stroke-opacity="0.55"/>
<line x1="201.6" x2="202.5" y1="369.3" y2="369.3" stroke="#1a1a1a" stroke-width="0.7" stroke-opacity="0.55"/>
<line x1="204.5" x2="204.5" y1="338.0" y2="366.3" stroke="#1a1a1a" stroke-width="0.85"/>
<line x1="204.5" x2="205.4" y1="345.1" y2="345.1" stroke="#1a1a1a" stroke-width="0.7" stroke-opacity="0.55"/>
<line x1="203.6" x2="204.5" y1="357.8" y2="357.8" stroke="#1a1a1a" stroke-width="0.7" stroke-opacity="0.55"/>
<line x1="206.5" x2="206.5" y1="332.3" y2="353.6" stroke="#1a1a1a" stroke-width="0.85"/>
<line x1="206.5" x2="207.4" y1="348.3" y2="348.3" stroke="#1a1a1a" stroke-width="0.7" stroke-opacity="0.55"/>
<line x1="205.6" x2="206.5" y1="347.2" y2="347.2" stroke="#1a1a1a" stroke-width="0.7" stroke-opacity="0.55"/>
<line x1="209.0" x2="209.0" y1="348.2" y2="353.2" stroke="#1a1a1a" stroke-width="0.72"/>
<line x1="209.0" x2="209.9" y1="349.4" y2="349.4" stroke="#1a1a1a" stroke-width="0.7" stroke-opacity="0.55"/>
<line x1="208.1" x2="209.0" y1="349.7" y2="349.7" stroke="#1a1a1a" stroke-width="0.7" stroke-opacity="0.55"/>
<line x1="211.5" x2="211.5" y1="332.3" y2="359.4" stroke="#1a1a1a" stroke-width="0.85"/>
<line x1="211.5" x2="212.4" y1="339.1" y2="339.1" stroke="#1a1a1a" stroke-width="0.7" stroke-opacity="0.55"/>
<line x1="210.6" x2="211.5" y1="351.3" y2="351.3" stroke="#1a1a1a" stroke-width="0.7" stroke-opacity="0.55"/>
<line x1="213.5" x2="213.5" y1="325.2" y2="343.3" stroke="#1a1a1a" stroke-width="0.85"/>
<line x1="213.5" x2="214.4" y1="329.7" y2="329.7" stroke="#1a1a1a" stroke-width="0.7" stroke-opacity="0.55"/>
<line x1="212.6" x2="213.5" y1="337.9" y2="337.9" stroke="#1a1a1a" stroke-width="0.7" stroke-opacity="0.55"/>
<line x1="215.5" x2="215.5" y1="300.3" y2="333.8" stroke="#1a1a1a" stroke-width="0.85"/>
<line x1="215.5" x2="216.4" y1="308.7" y2="308.7" stroke="#1a1a1a" stroke-width="0.7" stroke-opacity="0.55"/>
<line x1="214.6" x2="215.5" y1="323.8" y2="323.8" stroke="#1a1a1a" stroke-width="0.7" stroke-opacity="0.55"/>
<line x1="217.9" x2="217.9" y1="306.0" y2="322.4" stroke="#1a1a1a" stroke-width="0.72"/>
<line x1="217.9" x2="218.8" y1="310.1" y2="310.1" stroke="#1a1a1a" stroke-width="0.7" stroke-opacity="0.55"/>
<line x1="217.0" x2="217.9" y1="317.5" y2="317.5" stroke="#1a1a1a" stroke-width="0.7" stroke-opacity="0.55"/>
<line x1="220.5" x2="220.5" y1="298.6" y2="319.1" stroke="#1a1a1a" stroke-width="0.85"/>
<line x1="220.5" x2="221.4" y1="303.7" y2="303.7" stroke="#1a1a1a" stroke-width="0.7" stroke-opacity="0.55"/>
<line x1="219.6" x2="220.5" y1="313.0" y2="313.0" stroke="#1a1a1a" stroke-width="0.7" stroke-opacity="0.55"/>
<line x1="222.5" x2="222.5" y1="291.5" y2="307.8" stroke="#1a1a1a" stroke-width="0.85"/>
<line x1="222.5" x2="223.4" y1="295.6" y2="295.6" stroke="#1a1a1a" stroke-width="0.7" stroke-opacity="0.55"/>
<line x1="221.6" x2="222.5" y1="302.9" y2="302.9" stroke="#1a1a1a" stroke-width="0.7" stroke-opacity="0.55"/>
<line x1="224.5" x2="224.5" y1="279.0" y2="312.5" stroke="#1a1a1a" stroke-width="0.85"/>
<line x1="224.5" x2="225.4" y1="287.4" y2="287.4" stroke="#1a1a1a" stroke-width="0.7" stroke-opacity="0.55"/>
<line x1="223.6" x2="224.5" y1="302.4" y2="302.4" stroke="#1a1a1a" stroke-width="0.7" stroke-opacity="0.55"/>
<line x1="226.5" x2="226.5" y1="266.8" y2="291.0" stroke="#1a1a1a" stroke-width="0.85"/>
<line x1="226.5" x2="227.4" y1="284.9" y2="284.9" stroke="#1a1a1a" stroke-width="0.7" stroke-opacity="0.55"/>
<line x1="225.6" x2="226.5" y1="283.7" y2="283.7" stroke="#1a1a1a" stroke-width="0.7" stroke-opacity="0.55"/>
<line x1="229.0" x2="229.0" y1="275.0" y2="296.3" stroke="#1a1a1a" stroke-width="0.72"/>
<line x1="229.0" x2="229.9" y1="280.3" y2="280.3" stroke="#1a1a1a" stroke-width="0.7" stroke-opacity="0.55"/>
<line x1="228.1" x2="229.0" y1="281.4" y2="281.4" stroke="#1a1a1a" stroke-width="0.7" stroke-opacity="0.55"/>
<line x1="230.5" x2="230.5" y1="265.5" y2="281.2" stroke="#1a1a1a" stroke-width="0.85"/>
<line x1="230.5" x2="231.4" y1="269.4" y2="269.4" stroke="#1a1a1a" stroke-width="0.7" stroke-opacity="0.55"/>
<line x1="229.6" x2="230.5" y1="276.5" y2="276.5" stroke="#1a1a1a" stroke-width="0.7" stroke-opacity="0.55"/>
<line x1="233.5" x2="233.5" y1="249.3" y2="274.0" stroke="#1a1a1a" stroke-width="0.85"/>
<line x1="233.5" x2="234.4" y1="267.8" y2="267.8" stroke="#1a1a1a" stroke-width="0.7" stroke-opacity="0.55"/>
<line x1="232.6" x2="233.5" y1="266.6" y2="266.6" stroke="#1a1a1a" stroke-width="0.7" stroke-opacity="0.55"/>
<line x1="236.0" x2="236.0" y1="251.4" y2="274.8" stroke="#1a1a1a" stroke-width="0.72"/>
<line x1="236.0" x2="236.9" y1="268.9" y2="268.9" stroke="#1a1a1a" stroke-width="0.7" stroke-opacity="0.55"/>
<line x1="235.1" x2="236.0" y1="258.4" y2="258.4" stroke="#1a1a1a" stroke-width="0.7" stroke-opacity="0.55"/>
<line x1="237.9" x2="237.9" y1="266.6" y2="284.0" stroke="#1a1a1a" stroke-width="0.72"/>
<line x1="237.9" x2="238.8" y1="271.0" y2="271.0" stroke="#1a1a1a" stroke-width="0.7" stroke-opacity="0.55"/>
<line x1="237.0" x2="237.9" y1="271.8" y2="271.8" stroke="#1a1a1a" stroke-width="0.7" stroke-opacity="0.55"/>
<line x1="240.5" x2="240.5" y1="254.9" y2="280.4" stroke="#1a1a1a" stroke-width="0.85"/>
<line x1="240.5" x2="241.4" y1="261.3" y2="261.3" stroke="#1a1a1a" stroke-width="0.7" stroke-opacity="0.55"/>
<line x1="239.6" x2="240.5" y1="272.8" y2="272.8" stroke="#1a1a1a" stroke-width="0.7" stroke-opacity="0.55"/>
<line x1="242.5" x2="242.5" y1="248.5" y2="264.1" stroke="#1a1a1a" stroke-width="0.85"/>
<line x1="242.5" x2="243.4" y1="260.2" y2="260.2" stroke="#1a1a1a" stroke-width="0.7" stroke-opacity="0.55"/>
<line x1="241.6" x2="242.5" y1="259.4" y2="259.4" stroke="#1a1a1a" stroke-width="0.7" stroke-opacity="0.55"/>
<line x1="244.5" x2="244.5" y1="247.8" y2="268.4" stroke="#1a1a1a" stroke-width="0.85"/>
<line x1="244.5" x2="245.4" y1="263.2" y2="263.2" stroke="#1a1a1a" stroke-width="0.7" stroke-opacity="0.55"/>
<line x1="243.6" x2="244.5" y1="254.0" y2="254.0" stroke="#1a1a1a" stroke-width="0.7" stroke-opacity="0.55"/>
<line x1="246.5" x2="246.5" y1="262.7" y2="288.2" stroke="#1a1a1a" stroke-width="0.85"/>
<line x1="246.5" x2="247.4" y1="281.8" y2="281.8" stroke="#1a1a1a" stroke-width="0.7" stroke-opacity="0.55"/>
<line x1="245.6" x2="246.5" y1="270.3" y2="270.3" stroke="#1a1a1a" stroke-width="0.7" stroke-opacity="0.55"/>
<line x1="249.5" x2="249.5" y1="273.3" y2="303.0" stroke="#1a1a1a" stroke-width="0.85"/>
<line x1="249.5" x2="250.4" y1="295.6" y2="295.6" stroke="#1a1a1a" stroke-width="0.7" stroke-opacity="0.55"/>
<line x1="248.6" x2="249.5" y1="282.2" y2="282.2" stroke="#1a1a1a" stroke-width="0.7" stroke-opacity="0.55"/>
<line x1="251.5" x2="251.5" y1="289.6" y2="305.0" stroke="#1a1a1a" stroke-width="0.85"/>
<line x1="251.5" x2="252.4" y1="293.5" y2="293.5" stroke="#1a1a1a" stroke-width="0.7" stroke-opacity="0.55"/>
<line x1="250.6" x2="251.5" y1="294.2" y2="294.2" stroke="#1a1a1a" stroke-width="0.7" stroke-opacity="0.55"/>
<line x1="253.5" x2="253.5" y1="277.6" y2="296.0" stroke="#1a1a1a" stroke-width="0.85"/>
<line x1="253.5" x2="254.4" y1="282.2" y2="282.2" stroke="#1a1a1a" stroke-width="0.7" stroke-opacity="0.55"/>
<line x1="252.6" x2="253.5" y1="290.5" y2="290.5" stroke="#1a1a1a" stroke-width="0.7" stroke-opacity="0.55"/>
<line x1="255.5" x2="255.5" y1="254.2" y2="286.8" stroke="#1a1a1a" stroke-width="0.85"/>
<line x1="255.5" x2="256.4" y1="262.4" y2="262.4" stroke="#1a1a1a" stroke-width="0.7" stroke-opacity="0.55"/>
<line x1="254.6" x2="255.5" y1="277.0" y2="277.0" stroke="#1a1a1a" stroke-width="0.7" stroke-opacity="0.55"/>
<line x1="257.9" x2="257.9" y1="257.7" y2="281.1" stroke="#1a1a1a" stroke-width="0.72"/>
<line x1="257.9" x2="258.8" y1="263.6" y2="263.6" stroke="#1a1a1a" stroke-width="0.7" stroke-opacity="0.55"/>
<line x1="257.0" x2="257.9" y1="274.1" y2="274.1" stroke="#1a1a1a" stroke-width="0.7" stroke-opacity="0.55"/>
<line x1="260.0" x2="260.0" y1="239.4" y2="265.2" stroke="#1a1a1a" stroke-width="0.72"/>
<line x1="260.0" x2="260.9" y1="258.8" y2="258.8" stroke="#1a1a1a" stroke-width="0.7" stroke-opacity="0.55"/>
<line x1="259.1" x2="260.0" y1="257.5" y2="257.5" stroke="#1a1a1a" stroke-width="0.7" stroke-opacity="0.55"/>
<line x1="262.5" x2="262.5" y1="245.5" y2="267.0" stroke="#1a1a1a" stroke-width="0.85"/>
<line x1="262.5" x2="263.4" y1="250.9" y2="250.9" stroke="#1a1a1a" stroke-width="0.7" stroke-opacity="0.55"/>
<line x1="261.6" x2="262.5" y1="251.9" y2="251.9" stroke="#1a1a1a" stroke-width="0.7" stroke-opacity="0.55"/>
<line x1="264.5" x2="264.5" y1="223.3" y2="248.7" stroke="#1a1a1a" stroke-width="0.85"/>
<line x1="264.5" x2="265.4" y1="229.7" y2="229.7" stroke="#1a1a1a" stroke-width="0.7" stroke-opacity="0.55"/>
<line x1="263.6" x2="264.5" y1="241.1" y2="241.1" stroke="#1a1a1a" stroke-width="0.7" stroke-opacity="0.55"/>
<line x1="267.1" x2="267.1" y1="224.0" y2="236.8" stroke="#1a1a1a" stroke-width="0.72"/>
<line x1="267.1" x2="268.0" y1="227.2" y2="227.2" stroke="#1a1a1a" stroke-width="0.7" stroke-opacity="0.55"/>
<line x1="266.2" x2="267.1" y1="233.0" y2="233.0" stroke="#1a1a1a" stroke-width="0.7" stroke-opacity="0.55"/>
<line x1="269.5" x2="269.5" y1="210.3" y2="232.6" stroke="#1a1a1a" stroke-width="0.85"/>
<line x1="269.5" x2="270.4" y1="227.0" y2="227.0" stroke="#1a1a1a" stroke-width="0.7" stroke-opacity="0.55"/>
<line x1="268.6" x2="269.5" y1="225.9" y2="225.9" stroke="#1a1a1a" stroke-width="0.7" stroke-opacity="0.55"/>
<line x1="271.5" x2="271.5" y1="211.0" y2="233.3" stroke="#1a1a1a" stroke-width="0.85"/>
<line x1="271.5" x2="272.4" y1="227.7" y2="227.7" stroke="#1a1a1a" stroke-width="0.7" stroke-opacity="0.55"/>
<line x1="270.6" x2="271.5" y1="217.7" y2="217.7" stroke="#1a1a1a" stroke-width="0.7" stroke-opacity="0.55"/>
<line x1="273.5" x2="273.5" y1="221.9" y2="246.5" stroke="#1a1a1a" stroke-width="0.85"/>
<line x1="273.5" x2="274.4" y1="240.3" y2="240.3" stroke="#1a1a1a" stroke-width="0.7" stroke-opacity="0.55"/>
<line x1="272.6" x2="273.5" y1="229.3" y2="229.3" stroke="#1a1a1a" stroke-width="0.7" stroke-opacity="0.55"/>
<line x1="275.5" x2="275.5" y1="229.7" y2="249.6" stroke="#1a1a1a" stroke-width="0.85"/>
<line x1="275.5" x2="276.4" y1="234.7" y2="234.7" stroke="#1a1a1a" stroke-width="0.7" stroke-opacity="0.55"/>
<line x1="274.6" x2="275.5" y1="235.7" y2="235.7" stroke="#1a1a1a" stroke-width="0.7" stroke-opacity="0.55"/>
<line x1="277.5" x2="277.5" y1="224.8" y2="246.0" stroke="#1a1a1a" stroke-width="0.85"/>
<line x1="277.5" x2="278.4" y1="240.7" y2="240.7" stroke="#1a1a1a" stroke-width="0.7" stroke-opacity="0.55"/>
<line x1="276.6" x2="277.5" y1="239.6" y2="239.6" stroke="#1a1a1a" stroke-width="0.7" stroke-opacity="0.55"/>
<line x1="279.9" x2="279.9" y1="227.2" y2="252.8" stroke="#1a1a1a" stroke-width="0.72"/>
<line x1="279.9" x2="280.8" y1="233.6" y2="233.6" stroke="#1a1a1a" stroke-width="0.7" stroke-opacity="0.55"/>
<line x1="279.0" x2="279.9" y1="234.9" y2="234.9" stroke="#1a1a1a" stroke-width="0.7" stroke-opacity="0.55"/>
<line x1="282.5" x2="282.5" y1="213.4" y2="230.4" stroke="#1a1a1a" stroke-width="0.85"/>
<line x1="282.5" x2="283.4" y1="217.7" y2="217.7" stroke="#1a1a1a" stroke-width="0.7" stroke-opacity="0.55"/>
<line x1="281.6" x2="282.5" y1="225.3" y2="225.3" stroke="#1a1a1a" stroke-width="0.7" stroke-opacity="0.55"/>
<line x1="284.5" x2="284.5" y1="211.3" y2="225.5" stroke="#1a1a1a" stroke-width="0.85"/>
<line x1="284.5" x2="285.4" y1="221.9" y2="221.9" stroke="#1a1a1a" stroke-width="0.7" stroke-opacity="0.55"/>
<line x1="283.6" x2="284.5" y1="221.2" y2="221.2" stroke="#1a1a1a" stroke-width="0.7" stroke-opacity="0.55"/>
<line x1="287.0" x2="287.0" y1="218.4" y2="229.7" stroke="#1a1a1a" stroke-width="0.72"/>
<line x1="287.0" x2="287.9" y1="226.9" y2="226.9" stroke="#1a1a1a" stroke-width="0.7" stroke-opacity="0.55"/>
<line x1="286.1" x2="287.0" y1="221.8" y2="221.8" stroke="#1a1a1a" stroke-width="0.7" stroke-opacity="0.55"/>
<line x1="289.1" x2="289.1" y1="219.0" y2="239.6" stroke="#1a1a1a" stroke-width="0.72"/>
<line x1="289.1" x2="290.0" y1="224.2" y2="224.2" stroke="#1a1a1a" stroke-width="0.7" stroke-opacity="0.55"/>
<line x1="288.2" x2="289.1" y1="225.2" y2="225.2" stroke="#1a1a1a" stroke-width="0.7" stroke-opacity="0.55"/>
<line x1="291.5" x2="291.5" y1="216.2" y2="231.1" stroke="#1a1a1a" stroke-width="0.85"/>
<line x1="291.5" x2="292.4" y1="219.9" y2="219.9" stroke="#1a1a1a" stroke-width="0.7" stroke-opacity="0.55"/>
<line x1="290.6" x2="291.5" y1="226.6" y2="226.6" stroke="#1a1a1a" stroke-width="0.7" stroke-opacity="0.55"/>
<line x1="293.5" x2="293.5" y1="200.8" y2="224.8" stroke="#1a1a1a" stroke-width="0.85"/>
<line x1="293.5" x2="294.4" y1="206.8" y2="206.8" stroke="#1a1a1a" stroke-width="0.7" stroke-opacity="0.55"/>
<line x1="292.6" x2="293.5" y1="217.6" y2="217.6" stroke="#1a1a1a" stroke-width="0.7" stroke-opacity="0.55"/>
<line x1="295.5" x2="295.5" y1="186.9" y2="207.0" stroke="#1a1a1a" stroke-width="0.85"/>
<line x1="295.5" x2="296.4" y1="191.9" y2="191.9" stroke="#1a1a1a" stroke-width="0.7" stroke-opacity="0.55"/>
<line x1="294.6" x2="295.5" y1="201.0" y2="201.0" stroke="#1a1a1a" stroke-width="0.7" stroke-opacity="0.55"/>
<line x1="298.5" x2="298.5" y1="181.9" y2="202.7" stroke="#1a1a1a" stroke-width="0.85"/>
<line x1="298.5" x2="299.4" y1="197.5" y2="197.5" stroke="#1a1a1a" stroke-width="0.7" stroke-opacity="0.55"/>
<line x1="297.6" x2="298.5" y1="196.5" y2="196.5" stroke="#1a1a1a" stroke-width="0.7" stroke-opacity="0.55"/>
<line x1="300.5" x2="300.5" y1="190.4" y2="206.3" stroke="#1a1a1a" stroke-width="0.85"/>
<line x1="300.5" x2="301.4" y1="202.3" y2="202.3" stroke="#1a1a1a" stroke-width="0.7" stroke-opacity="0.55"/>
<line x1="299.6" x2="300.5" y1="195.2" y2="195.2" stroke="#1a1a1a" stroke-width="0.7" stroke-opacity="0.55"/>
<line x1="302.5" x2="302.5" y1="201.5" y2="223.0" stroke="#1a1a1a" stroke-width="0.85"/>
<line x1="302.5" x2="303.4" y1="217.6" y2="217.6" stroke="#1a1a1a" stroke-width="0.7" stroke-opacity="0.55"/>
<line x1="301.6" x2="302.5" y1="207.9" y2="207.9" stroke="#1a1a1a" stroke-width="0.7" stroke-opacity="0.55"/>
<line x1="304.5" x2="304.5" y1="202.5" y2="231.5" stroke="#1a1a1a" stroke-width="0.85"/>
<line x1="304.5" x2="305.4" y1="224.2" y2="224.2" stroke="#1a1a1a" stroke-width="0.7" stroke-opacity="0.55"/>
<line x1="303.6" x2="304.5" y1="211.2" y2="211.2" stroke="#1a1a1a" stroke-width="0.7" stroke-opacity="0.55"/>
<line x1="306.8" x2="306.8" y1="222.6" y2="243.6" stroke="#1a1a1a" stroke-width="0.72"/>
<line x1="306.8" x2="307.7" y1="227.8" y2="227.8" stroke="#1a1a1a" stroke-width="0.7" stroke-opacity="0.55"/>
<line x1="305.9" x2="306.8" y1="228.9" y2="228.9" stroke="#1a1a1a" stroke-width="0.7" stroke-opacity="0.55"/>
<line x1="309.0" x2="309.0" y1="221.9" y2="241.5" stroke="#1a1a1a" stroke-width="0.72"/>
<line x1="309.0" x2="309.9" y1="236.6" y2="236.6" stroke="#1a1a1a" stroke-width="0.7" stroke-opacity="0.55"/>
<line x1="308.1" x2="309.0" y1="235.6" y2="235.6" stroke="#1a1a1a" stroke-width="0.7" stroke-opacity="0.55"/>
<line x1="311.5" x2="311.5" y1="235.8" y2="256.8" stroke="#1a1a1a" stroke-width="0.85"/>
<line x1="311.5" x2="312.4" y1="251.6" y2="251.6" stroke="#1a1a1a" stroke-width="0.7" stroke-opacity="0.55"/>
<line x1="310.6" x2="311.5" y1="242.1" y2="242.1" stroke="#1a1a1a" stroke-width="0.7" stroke-opacity="0.55"/>
<line x1="313.5" x2="313.5" y1="249.8" y2="268.4" stroke="#1a1a1a" stroke-width="0.85"/>
<line x1="313.5" x2="314.4" y1="263.8" y2="263.8" stroke="#1a1a1a" stroke-width="0.7" stroke-opacity="0.55"/>
<line x1="312.6" x2="313.5" y1="255.4" y2="255.4" stroke="#1a1a1a" stroke-width="0.7" stroke-opacity="0.55"/>
<line x1="315.8" x2="315.8" y1="264.1" y2="279.0" stroke="#1a1a1a" stroke-width="0.72"/>
<line x1="315.8" x2="316.7" y1="275.3" y2="275.3" stroke="#1a1a1a" stroke-width="0.7" stroke-opacity="0.55"/>
<line x1="314.9" x2="315.8" y1="268.6" y2="268.6" stroke="#1a1a1a" stroke-width="0.7" stroke-opacity="0.55"/>
<line x1="318.5" x2="318.5" y1="267.7" y2="285.7" stroke="#1a1a1a" stroke-width="0.85"/>
<line x1="318.5" x2="319.4" y1="272.2" y2="272.2" stroke="#1a1a1a" stroke-width="0.7" stroke-opacity="0.55"/>
<line x1="317.6" x2="318.5" y1="273.1" y2="273.1" stroke="#1a1a1a" stroke-width="0.7" stroke-opacity="0.55"/>
<line x1="320.5" x2="320.5" y1="259.9" y2="274.0" stroke="#1a1a1a" stroke-width="0.85"/>
<line x1="320.5" x2="321.4" y1="270.5" y2="270.5" stroke="#1a1a1a" stroke-width="0.7" stroke-opacity="0.55"/>
<line x1="319.6" x2="320.5" y1="269.8" y2="269.8" stroke="#1a1a1a" stroke-width="0.7" stroke-opacity="0.55"/>
<line x1="322.5" x2="322.5" y1="265.2" y2="282.6" stroke="#1a1a1a" stroke-width="0.85"/>
<line x1="322.5" x2="323.4" y1="269.6" y2="269.6" stroke="#1a1a1a" stroke-width="0.7" stroke-opacity="0.55"/>
<line x1="321.6" x2="322.5" y1="270.4" y2="270.4" stroke="#1a1a1a" stroke-width="0.7" stroke-opacity="0.55"/>
<line x1="324.5" x2="324.5" y1="243.4" y2="281.8" stroke="#1a1a1a" stroke-width="0.85"/>
<line x1="324.5" x2="325.4" y1="253.0" y2="253.0" stroke="#1a1a1a" stroke-width="0.7" stroke-opacity="0.55"/>
<line x1="323.6" x2="324.5" y1="270.3" y2="270.3" stroke="#1a1a1a" stroke-width="0.7" stroke-opacity="0.55"/>
<line x1="326.5" x2="326.5" y1="227.0" y2="251.2" stroke="#1a1a1a" stroke-width="0.85"/>
<line x1="326.5" x2="327.4" y1="233.1" y2="233.1" stroke="#1a1a1a" stroke-width="0.7" stroke-opacity="0.55"/>
<line x1="325.6" x2="326.5" y1="243.9" y2="243.9" stroke="#1a1a1a" stroke-width="0.7" stroke-opacity="0.55"/>
<line x1="329.0" x2="329.0" y1="228.3" y2="241.5" stroke="#1a1a1a" stroke-width="0.72"/>
<line x1="329.0" x2="329.9" y1="231.6" y2="231.6" stroke="#1a1a1a" stroke-width="0.7" stroke-opacity="0.55"/>
<line x1="328.1" x2="329.0" y1="237.5" y2="237.5" stroke="#1a1a1a" stroke-width="0.7" stroke-opacity="0.55"/>
<line x1="331.5" x2="331.5" y1="223.0" y2="234.6" stroke="#1a1a1a" stroke-width="0.85"/>
<line x1="331.5" x2="332.4" y1="225.9" y2="225.9" stroke="#1a1a1a" stroke-width="0.7" stroke-opacity="0.55"/>
<line x1="330.6" x2="331.5" y1="231.1" y2="231.1" stroke="#1a1a1a" stroke-width="0.7" stroke-opacity="0.55"/>
<line x1="333.5" x2="333.5" y1="204.5" y2="237.9" stroke="#1a1a1a" stroke-width="0.85"/>
<line x1="333.5" x2="334.4" y1="212.8" y2="212.8" stroke="#1a1a1a" stroke-width="0.7" stroke-opacity="0.55"/>
<line x1="332.6" x2="333.5" y1="227.9" y2="227.9" stroke="#1a1a1a" stroke-width="0.7" stroke-opacity="0.55"/>
<line x1="336.0" x2="336.0" y1="199.8" y2="212.8" stroke="#1a1a1a" stroke-width="0.72"/>
<line x1="336.0" x2="336.9" y1="203.1" y2="203.1" stroke="#1a1a1a" stroke-width="0.7" stroke-opacity="0.55"/>
<line x1="335.1" x2="336.0" y1="208.9" y2="208.9" stroke="#1a1a1a" stroke-width="0.7" stroke-opacity="0.55"/>
<line x1="337.9" x2="337.9" y1="197.3" y2="214.5" stroke="#1a1a1a" stroke-width="0.72"/>
<line x1="337.9" x2="338.8" y1="210.2" y2="210.2" stroke="#1a1a1a" stroke-width="0.7" stroke-opacity="0.55"/>
<line x1="337.0" x2="337.9" y1="209.3" y2="209.3" stroke="#1a1a1a" stroke-width="0.7" stroke-opacity="0.55"/>
<line x1="340.5" x2="340.5" y1="199.4" y2="217.5" stroke="#1a1a1a" stroke-width="0.85"/>
<line x1="340.5" x2="341.4" y1="203.9" y2="203.9" stroke="#1a1a1a" stroke-width="0.7" stroke-opacity="0.55"/>
<line x1="339.6" x2="340.5" y1="204.8" y2="204.8" stroke="#1a1a1a" stroke-width="0.7" stroke-opacity="0.55"/>
<line x1="342.5" x2="342.5" y1="185.5" y2="206.7" stroke="#1a1a1a" stroke-width="0.85"/>
<line x1="342.5" x2="343.4" y1="201.4" y2="201.4" stroke="#1a1a1a" stroke-width="0.7" stroke-opacity="0.55"/>
<line x1="341.6" x2="342.5" y1="200.3" y2="200.3" stroke="#1a1a1a" stroke-width="0.7" stroke-opacity="0.55"/>
<line x1="344.5" x2="344.5" y1="190.4" y2="206.7" stroke="#1a1a1a" stroke-width="0.85"/>
<line x1="344.5" x2="345.4" y1="202.6" y2="202.6" stroke="#1a1a1a" stroke-width="0.7" stroke-opacity="0.55"/>
<line x1="343.6" x2="344.5" y1="195.3" y2="195.3" stroke="#1a1a1a" stroke-width="0.7" stroke-opacity="0.55"/>
<line x1="347.5" x2="347.5" y1="195.4" y2="207.0" stroke="#1a1a1a" stroke-width="0.85"/>
<line x1="347.5" x2="348.4" y1="204.1" y2="204.1" stroke="#1a1a1a" stroke-width="0.7" stroke-opacity="0.55"/>
<line x1="346.6" x2="347.5" y1="198.9" y2="198.9" stroke="#1a1a1a" stroke-width="0.7" stroke-opacity="0.55"/>
<line x1="349.5" x2="349.5" y1="196.8" y2="214.2" stroke="#1a1a1a" stroke-width="0.85"/>
<line x1="349.5" x2="350.4" y1="209.8" y2="209.8" stroke="#1a1a1a" stroke-width="0.7" stroke-opacity="0.55"/>
<line x1="348.6" x2="349.5" y1="202.0" y2="202.0" stroke="#1a1a1a" stroke-width="0.7" stroke-opacity="0.55"/>
<line x1="351.5" x2="351.5" y1="201.8" y2="218.4" stroke="#1a1a1a" stroke-width="0.85"/>
<line x1="351.5" x2="352.4" y1="206.0" y2="206.0" stroke="#1a1a1a" stroke-width="0.7" stroke-opacity="0.55"/>
<line x1="350.6" x2="351.5" y1="206.8" y2="206.8" stroke="#1a1a1a" stroke-width="0.7" stroke-opacity="0.55"/>
<line x1="353.5" x2="353.5" y1="196.8" y2="211.3" stroke="#1a1a1a" stroke-width="0.85"/>
<line x1="353.5" x2="354.4" y1="200.4" y2="200.4" stroke="#1a1a1a" stroke-width="0.7" stroke-opacity="0.55"/>
<line x1="352.6" x2="353.5" y1="207.0" y2="207.0" stroke="#1a1a1a" stroke-width="0.7" stroke-opacity="0.55"/>
<line x1="355.5" x2="355.5" y1="184.7" y2="197.5" stroke="#1a1a1a" stroke-width="0.85"/>
<line x1="355.5" x2="356.4" y1="194.3" y2="194.3" stroke="#1a1a1a" stroke-width="0.7" stroke-opacity="0.55"/>
<line x1="354.6" x2="355.5" y1="193.7" y2="193.7" stroke="#1a1a1a" stroke-width="0.7" stroke-opacity="0.55"/>
<line x1="358.0" x2="358.0" y1="191.1" y2="212.0" stroke="#1a1a1a" stroke-width="0.72"/>
<line x1="358.0" x2="358.9" y1="196.3" y2="196.3" stroke="#1a1a1a" stroke-width="0.7" stroke-opacity="0.55"/>
<line x1="357.1" x2="358.0" y1="197.4" y2="197.4" stroke="#1a1a1a" stroke-width="0.7" stroke-opacity="0.55"/>
<line x1="360.2" x2="360.2" y1="188.3" y2="203.9" stroke="#1a1a1a" stroke-width="0.72"/>
<line x1="360.2" x2="361.1" y1="192.2" y2="192.2" stroke="#1a1a1a" stroke-width="0.7" stroke-opacity="0.55"/>
<line x1="359.3" x2="360.2" y1="199.2" y2="199.2" stroke="#1a1a1a" stroke-width="0.7" stroke-opacity="0.55"/>
<line x1="362.5" x2="362.5" y1="171.2" y2="202.5" stroke="#1a1a1a" stroke-width="0.85"/>
<line x1="362.5" x2="363.4" y1="194.7" y2="194.7" stroke="#1a1a1a" stroke-width="0.7" stroke-opacity="0.55"/>
<line x1="361.6" x2="362.5" y1="193.1" y2="193.1" stroke="#1a1a1a" stroke-width="0.7" stroke-opacity="0.55"/>
<line x1="365.1" x2="365.1" y1="191.1" y2="207.2" stroke="#1a1a1a" stroke-width="0.72"/>
<line x1="365.1" x2="366.0" y1="195.1" y2="195.1" stroke="#1a1a1a" stroke-width="0.7" stroke-opacity="0.55"/>
<line x1="364.2" x2="365.1" y1="195.9" y2="195.9" stroke="#1a1a1a" stroke-width="0.7" stroke-opacity="0.55"/>
<line x1="367.5" x2="367.5" y1="164.8" y2="198.2" stroke="#1a1a1a" stroke-width="0.85"/>
<line x1="367.5" x2="368.4" y1="173.2" y2="173.2" stroke="#1a1a1a" stroke-width="0.7" stroke-opacity="0.55"/>
<line x1="366.6" x2="367.5" y1="188.2" y2="188.2" stroke="#1a1a1a" stroke-width="0.7" stroke-opacity="0.55"/>
<line x1="369.5" x2="369.5" y1="147.0" y2="169.8" stroke="#1a1a1a" stroke-width="0.85"/>
<line x1="369.5" x2="370.4" y1="152.7" y2="152.7" stroke="#1a1a1a" stroke-width="0.7" stroke-opacity="0.55"/>
<line x1="368.6" x2="369.5" y1="163.0" y2="163.0" stroke="#1a1a1a" stroke-width="0.7" stroke-opacity="0.55"/>
<line x1="371.5" x2="371.5" y1="144.1" y2="155.5" stroke="#1a1a1a" stroke-width="0.85"/>
<line x1="371.5" x2="372.4" y1="146.9" y2="146.9" stroke="#1a1a1a" stroke-width="0.7" stroke-opacity="0.55"/>
<line x1="370.6" x2="371.5" y1="152.1" y2="152.1" stroke="#1a1a1a" stroke-width="0.7" stroke-opacity="0.55"/>
<line x1="373.5" x2="373.5" y1="144.9" y2="152.7" stroke="#1a1a1a" stroke-width="0.85"/>
<line x1="373.5" x2="374.4" y1="146.8" y2="146.8" stroke="#1a1a1a" stroke-width="0.7" stroke-opacity="0.55"/>
<line x1="372.6" x2="373.5" y1="150.4" y2="150.4" stroke="#1a1a1a" stroke-width="0.7" stroke-opacity="0.55"/>
<line x1="375.5" x2="375.5" y1="134.2" y2="156.2" stroke="#1a1a1a" stroke-width="0.85"/>
<line x1="375.5" x2="376.4" y1="150.7" y2="150.7" stroke="#1a1a1a" stroke-width="0.7" stroke-opacity="0.55"/>
<line x1="374.6" x2="375.5" y1="149.6" y2="149.6" stroke="#1a1a1a" stroke-width="0.7" stroke-opacity="0.55"/>
<line x1="377.9" x2="377.9" y1="138.5" y2="159.1" stroke="#1a1a1a" stroke-width="0.72"/>
<line x1="377.9" x2="378.8" y1="153.9" y2="153.9" stroke="#1a1a1a" stroke-width="0.7" stroke-opacity="0.55"/>
<line x1="377.0" x2="377.9" y1="144.7" y2="144.7" stroke="#1a1a1a" stroke-width="0.7" stroke-opacity="0.55"/>
<line x1="380.5" x2="380.5" y1="140.3" y2="164.1" stroke="#1a1a1a" stroke-width="0.85"/>
<line x1="380.5" x2="381.4" y1="158.2" y2="158.2" stroke="#1a1a1a" stroke-width="0.7" stroke-opacity="0.55"/>
<line x1="379.6" x2="380.5" y1="147.4" y2="147.4" stroke="#1a1a1a" stroke-width="0.7" stroke-opacity="0.55"/>
<line x1="382.5" x2="382.5" y1="152.0" y2="163.4" stroke="#1a1a1a" stroke-width="0.85"/>
<line x1="382.5" x2="383.4" y1="154.8" y2="154.8" stroke="#1a1a1a" stroke-width="0.7" stroke-opacity="0.55"/>
<line x1="381.6" x2="382.5" y1="155.4" y2="155.4" stroke="#1a1a1a" stroke-width="0.7" stroke-opacity="0.55"/>
<line x1="385.0" x2="385.0" y1="144.9" y2="160.9" stroke="#1a1a1a" stroke-width="0.72"/>
<line x1="385.0" x2="385.9" y1="156.9" y2="156.9" stroke="#1a1a1a" stroke-width="0.7" stroke-opacity="0.55"/>
<line x1="384.1" x2="385.0" y1="156.1" y2="156.1" stroke="#1a1a1a" stroke-width="0.7" stroke-opacity="0.55"/>
<line x1="387.1" x2="387.1" y1="161.6" y2="179.0" stroke="#1a1a1a" stroke-width="0.72"/>
<line x1="387.1" x2="388.0" y1="174.7" y2="174.7" stroke="#1a1a1a" stroke-width="0.7" stroke-opacity="0.55"/>
<line x1="386.2" x2="387.1" y1="166.8" y2="166.8" stroke="#1a1a1a" stroke-width="0.7" stroke-opacity="0.55"/>
<line x1="389.0" x2="389.0" y1="159.8" y2="183.6" stroke="#1a1a1a" stroke-width="0.72"/>
<line x1="389.0" x2="389.9" y1="177.7" y2="177.7" stroke="#1a1a1a" stroke-width="0.7" stroke-opacity="0.55"/>
<line x1="388.1" x2="389.0" y1="166.9" y2="166.9" stroke="#1a1a1a" stroke-width="0.7" stroke-opacity="0.55"/>
<line x1="391.5" x2="391.5" y1="171.2" y2="188.5" stroke="#1a1a1a" stroke-width="0.85"/>
<line x1="391.5" x2="392.4" y1="175.5" y2="175.5" stroke="#1a1a1a" stroke-width="0.7" stroke-opacity="0.55"/>
<line x1="390.6" x2="391.5" y1="176.4" y2="176.4" stroke="#1a1a1a" stroke-width="0.7" stroke-opacity="0.55"/>
<line x1="393.5" x2="393.5" y1="171.9" y2="186.9" stroke="#1a1a1a" stroke-width="0.85"/>
<line x1="393.5" x2="394.4" y1="175.7" y2="175.7" stroke="#1a1a1a" stroke-width="0.7" stroke-opacity="0.55"/>
<line x1="392.6" x2="393.5" y1="182.4" y2="182.4" stroke="#1a1a1a" stroke-width="0.7" stroke-opacity="0.55"/>
<line x1="395.5" x2="395.5" y1="174.0" y2="183.4" stroke="#1a1a1a" stroke-width="0.85"/>
<line x1="395.5" x2="396.4" y1="181.1" y2="181.1" stroke="#1a1a1a" stroke-width="0.7" stroke-opacity="0.55"/>
<line x1="394.6" x2="395.5" y1="180.6" y2="180.6" stroke="#1a1a1a" stroke-width="0.7" stroke-opacity="0.55"/>
<line x1="398.5" x2="398.5" y1="170.3" y2="197.6" stroke="#1a1a1a" stroke-width="0.85"/>
<line x1="398.5" x2="399.4" y1="190.8" y2="190.8" stroke="#1a1a1a" stroke-width="0.7" stroke-opacity="0.55"/>
<line x1="397.6" x2="398.5" y1="178.5" y2="178.5" stroke="#1a1a1a" stroke-width="0.7" stroke-opacity="0.55"/>
<line x1="400.5" x2="400.5" y1="190.8" y2="201.2" stroke="#1a1a1a" stroke-width="0.85"/>
<line x1="400.5" x2="401.4" y1="198.6" y2="198.6" stroke="#1a1a1a" stroke-width="0.7" stroke-opacity="0.55"/>
<line x1="399.6" x2="400.5" y1="193.9" y2="193.9" stroke="#1a1a1a" stroke-width="0.7" stroke-opacity="0.55"/>
<line x1="402.5" x2="402.5" y1="191.5" y2="223.7" stroke="#1a1a1a" stroke-width="0.85"/>
<line x1="402.5" x2="403.4" y1="215.6" y2="215.6" stroke="#1a1a1a" stroke-width="0.7" stroke-opacity="0.55"/>
<line x1="401.6" x2="402.5" y1="201.2" y2="201.2" stroke="#1a1a1a" stroke-width="0.7" stroke-opacity="0.55"/>
<line x1="404.5" x2="404.5" y1="214.8" y2="239.7" stroke="#1a1a1a" stroke-width="0.85"/>
<line x1="404.5" x2="405.4" y1="233.5" y2="233.5" stroke="#1a1a1a" stroke-width="0.7" stroke-opacity="0.55"/>
<line x1="403.6" x2="404.5" y1="222.3" y2="222.3" stroke="#1a1a1a" stroke-width="0.7" stroke-opacity="0.55"/>
<line x1="407.0" x2="407.0" y1="222.6" y2="238.3" stroke="#1a1a1a" stroke-width="0.72"/>
<line x1="407.0" x2="407.9" y1="234.4" y2="234.4" stroke="#1a1a1a" stroke-width="0.7" stroke-opacity="0.55"/>
<line x1="406.1" x2="407.0" y1="227.3" y2="227.3" stroke="#1a1a1a" stroke-width="0.7" stroke-opacity="0.55"/>
<line x1="408.8" x2="408.8" y1="221.9" y2="240.4" stroke="#1a1a1a" stroke-width="0.72"/>
<line x1="408.8" x2="409.7" y1="235.8" y2="235.8" stroke="#1a1a1a" stroke-width="0.7" stroke-opacity="0.55"/>
<line x1="407.9" x2="408.8" y1="227.5" y2="227.5" stroke="#1a1a1a" stroke-width="0.7" stroke-opacity="0.55"/>
<line x1="411.5" x2="411.5" y1="234.0" y2="256.0" stroke="#1a1a1a" stroke-width="0.85"/>
<line x1="411.5" x2="412.4" y1="250.5" y2="250.5" stroke="#1a1a1a" stroke-width="0.7" stroke-opacity="0.55"/>
<line x1="410.6" x2="411.5" y1="240.6" y2="240.6" stroke="#1a1a1a" stroke-width="0.7" stroke-opacity="0.55"/>
<line x1="413.9" x2="413.9" y1="239.7" y2="251.0" stroke="#1a1a1a" stroke-width="0.72"/>
<line x1="413.9" x2="414.8" y1="242.5" y2="242.5" stroke="#1a1a1a" stroke-width="0.7" stroke-opacity="0.55"/>
<line x1="413.0" x2="413.9" y1="243.1" y2="243.1" stroke="#1a1a1a" stroke-width="0.7" stroke-opacity="0.55"/>
<line x1="416.1" x2="416.1" y1="236.1" y2="251.8" stroke="#1a1a1a" stroke-width="0.72"/>
<line x1="416.1" x2="417.0" y1="240.0" y2="240.0" stroke="#1a1a1a" stroke-width="0.7" stroke-opacity="0.55"/>
<line x1="415.2" x2="416.1" y1="247.1" y2="247.1" stroke="#1a1a1a" stroke-width="0.7" stroke-opacity="0.55"/>
<line x1="418.5" x2="418.5" y1="229.7" y2="241.1" stroke="#1a1a1a" stroke-width="0.85"/>
<line x1="418.5" x2="419.4" y1="232.5" y2="232.5" stroke="#1a1a1a" stroke-width="0.7" stroke-opacity="0.55"/>
<line x1="417.6" x2="418.5" y1="237.7" y2="237.7" stroke="#1a1a1a" stroke-width="0.7" stroke-opacity="0.55"/>
<line x1="420.5" x2="420.5" y1="221.1" y2="236.7" stroke="#1a1a1a" stroke-width="0.85"/>
<line x1="420.5" x2="421.4" y1="225.0" y2="225.0" stroke="#1a1a1a" stroke-width="0.7" stroke-opacity="0.55"/>
<line x1="419.6" x2="420.5" y1="232.0" y2="232.0" stroke="#1a1a1a" stroke-width="0.7" stroke-opacity="0.55"/>
<line x1="422.5" x2="422.5" y1="210.5" y2="232.5" stroke="#1a1a1a" stroke-width="0.85"/>
<line x1="422.5" x2="423.4" y1="216.0" y2="216.0" stroke="#1a1a1a" stroke-width="0.7" stroke-opacity="0.55"/>
<line x1="421.6" x2="422.5" y1="225.9" y2="225.9" stroke="#1a1a1a" stroke-width="0.7" stroke-opacity="0.55"/>
<line x1="424.5" x2="424.5" y1="182.6" y2="216.2" stroke="#1a1a1a" stroke-width="0.85"/>
<line x1="424.5" x2="425.4" y1="191.0" y2="191.0" stroke="#1a1a1a" stroke-width="0.7" stroke-opacity="0.55"/>
<line x1="423.6" x2="424.5" y1="206.1" y2="206.1" stroke="#1a1a1a" stroke-width="0.7" stroke-opacity="0.55"/>
<line x1="426.5" x2="426.5" y1="180.3" y2="209.1" stroke="#1a1a1a" stroke-width="0.85"/>
<line x1="426.5" x2="427.4" y1="201.9" y2="201.9" stroke="#1a1a1a" stroke-width="0.7" stroke-opacity="0.55"/>
<line x1="425.6" x2="426.5" y1="200.5" y2="200.5" stroke="#1a1a1a" stroke-width="0.7" stroke-opacity="0.55"/>
<line x1="429.5" x2="429.5" y1="192.8" y2="207.0" stroke="#1a1a1a" stroke-width="0.85"/>
<line x1="429.5" x2="430.4" y1="196.4" y2="196.4" stroke="#1a1a1a" stroke-width="0.7" stroke-opacity="0.55"/>
<line x1="428.6" x2="429.5" y1="197.1" y2="197.1" stroke="#1a1a1a" stroke-width="0.7" stroke-opacity="0.55"/>
<line x1="431.5" x2="431.5" y1="181.9" y2="200.6" stroke="#1a1a1a" stroke-width="0.85"/>
<line x1="431.5" x2="432.4" y1="195.9" y2="195.9" stroke="#1a1a1a" stroke-width="0.7" stroke-opacity="0.55"/>
<line x1="430.6" x2="431.5" y1="195.0" y2="195.0" stroke="#1a1a1a" stroke-width="0.7" stroke-opacity="0.55"/>
<line x1="433.5" x2="433.5" y1="181.5" y2="202.0" stroke="#1a1a1a" stroke-width="0.85"/>
<line x1="433.5" x2="434.4" y1="196.9" y2="196.9" stroke="#1a1a1a" stroke-width="0.7" stroke-opacity="0.55"/>
<line x1="432.6" x2="433.5" y1="187.7" y2="187.7" stroke="#1a1a1a" stroke-width="0.7" stroke-opacity="0.55"/>
<line x1="435.8" x2="435.8" y1="188.5" y2="206.2" stroke="#1a1a1a" stroke-width="0.72"/>
<line x1="435.8" x2="436.7" y1="192.9" y2="192.9" stroke="#1a1a1a" stroke-width="0.7" stroke-opacity="0.55"/>
<line x1="434.9" x2="435.8" y1="193.8" y2="193.8" stroke="#1a1a1a" stroke-width="0.7" stroke-opacity="0.55"/>
<line x1="438.2" x2="438.2" y1="187.8" y2="197.0" stroke="#1a1a1a" stroke-width="0.72"/>
<line x1="438.2" x2="439.1" y1="190.1" y2="190.1" stroke="#1a1a1a" stroke-width="0.7" stroke-opacity="0.55"/>
<line x1="437.3" x2="438.2" y1="194.2" y2="194.2" stroke="#1a1a1a" stroke-width="0.7" stroke-opacity="0.55"/>
<line x1="440.5" x2="440.5" y1="173.2" y2="197.0" stroke="#1a1a1a" stroke-width="0.85"/>
<line x1="440.5" x2="441.4" y1="179.1" y2="179.1" stroke="#1a1a1a" stroke-width="0.7" stroke-opacity="0.55"/>
<line x1="439.6" x2="440.5" y1="189.9" y2="189.9" stroke="#1a1a1a" stroke-width="0.7" stroke-opacity="0.55"/>
<line x1="442.5" x2="442.5" y1="174.6" y2="186.0" stroke="#1a1a1a" stroke-width="0.85"/>
<line x1="442.5" x2="443.4" y1="177.4" y2="177.4" stroke="#1a1a1a" stroke-width="0.7" stroke-opacity="0.55"/>
<line x1="441.6" x2="442.5" y1="182.6" y2="182.6" stroke="#1a1a1a" stroke-width="0.7" stroke-opacity="0.55"/>
<line x1="444.5" x2="444.5" y1="171.8" y2="188.5" stroke="#1a1a1a" stroke-width="0.85"/>
<line x1="444.5" x2="445.4" y1="176.0" y2="176.0" stroke="#1a1a1a" stroke-width="0.7" stroke-opacity="0.55"/>
<line x1="443.6" x2="444.5" y1="183.5" y2="183.5" stroke="#1a1a1a" stroke-width="0.7" stroke-opacity="0.55"/>
<line x1="447.5" x2="447.5" y1="166.1" y2="187.0" stroke="#1a1a1a" stroke-width="0.85"/>
<line x1="447.5" x2="448.4" y1="181.8" y2="181.8" stroke="#1a1a1a" stroke-width="0.7" stroke-opacity="0.55"/>
<line x1="446.6" x2="447.5" y1="180.7" y2="180.7" stroke="#1a1a1a" stroke-width="0.7" stroke-opacity="0.55"/>
<line x1="449.5" x2="449.5" y1="171.8" y2="185.7" stroke="#1a1a1a" stroke-width="0.85"/>
<line x1="449.5" x2="450.4" y1="175.3" y2="175.3" stroke="#1a1a1a" stroke-width="0.7" stroke-opacity="0.55"/>
<line x1="448.6" x2="449.5" y1="176.0" y2="176.0" stroke="#1a1a1a" stroke-width="0.7" stroke-opacity="0.55"/>
<line x1="451.5" x2="451.5" y1="158.3" y2="188.5" stroke="#1a1a1a" stroke-width="0.85"/>
<line x1="451.5" x2="452.4" y1="165.9" y2="165.9" stroke="#1a1a1a" stroke-width="0.7" stroke-opacity="0.55"/>
<line x1="450.6" x2="451.5" y1="179.4" y2="179.4" stroke="#1a1a1a" stroke-width="0.7" stroke-opacity="0.55"/>
<line x1="453.5" x2="453.5" y1="152.7" y2="161.9" stroke="#1a1a1a" stroke-width="0.85"/>
<line x1="453.5" x2="454.4" y1="155.0" y2="155.0" stroke="#1a1a1a" stroke-width="0.7" stroke-opacity="0.55"/>
<line x1="452.6" x2="453.5" y1="159.1" y2="159.1" stroke="#1a1a1a" stroke-width="0.7" stroke-opacity="0.55"/>
<line x1="456.0" x2="456.0" y1="133.5" y2="158.3" stroke="#1a1a1a" stroke-width="0.72"/>
<line x1="456.0" x2="456.9" y1="139.7" y2="139.7" stroke="#1a1a1a" stroke-width="0.7" stroke-opacity="0.55"/>
<line x1="455.1" x2="456.0" y1="150.9" y2="150.9" stroke="#1a1a1a" stroke-width="0.7" stroke-opacity="0.55"/>
<line x1="457.8" x2="457.8" y1="136.3" y2="153.4" stroke="#1a1a1a" stroke-width="0.72"/>
<line x1="457.8" x2="458.7" y1="149.1" y2="149.1" stroke="#1a1a1a" stroke-width="0.7" stroke-opacity="0.55"/>
<line x1="456.9" x2="457.8" y1="148.3" y2="148.3" stroke="#1a1a1a" stroke-width="0.7" stroke-opacity="0.55"/>
<line x1="460.0" x2="460.0" y1="144.1" y2="170.4" stroke="#1a1a1a" stroke-width="0.72"/>
<line x1="460.0" x2="460.9" y1="163.8" y2="163.8" stroke="#1a1a1a" stroke-width="0.7" stroke-opacity="0.55"/>
<line x1="459.1" x2="460.0" y1="152.0" y2="152.0" stroke="#1a1a1a" stroke-width="0.7" stroke-opacity="0.55"/>
<line x1="462.8" x2="462.8" y1="157.6" y2="180.4" stroke="#1a1a1a" stroke-width="0.72"/>
<line x1="462.8" x2="463.7" y1="174.7" y2="174.7" stroke="#1a1a1a" stroke-width="0.7" stroke-opacity="0.55"/>
<line x1="461.9" x2="462.8" y1="164.4" y2="164.4" stroke="#1a1a1a" stroke-width="0.7" stroke-opacity="0.55"/>
<line x1="464.8" x2="464.8" y1="171.8" y2="181.8" stroke="#1a1a1a" stroke-width="0.72"/>
<line x1="464.8" x2="465.7" y1="179.3" y2="179.3" stroke="#1a1a1a" stroke-width="0.7" stroke-opacity="0.55"/>
<line x1="463.9" x2="464.8" y1="174.8" y2="174.8" stroke="#1a1a1a" stroke-width="0.7" stroke-opacity="0.55"/>
<line x1="468.0" x2="468.0" y1="174.0" y2="188.0" stroke="#1a1a1a" stroke-width="0.72"/>
<line x1="468.0" x2="468.9" y1="177.5" y2="177.5" stroke="#1a1a1a" stroke-width="0.7" stroke-opacity="0.55"/>
<line x1="467.1" x2="468.0" y1="178.2" y2="178.2" stroke="#1a1a1a" stroke-width="0.7" stroke-opacity="0.55"/>
<line x1="469.5" x2="469.5" y1="157.0" y2="192.0" stroke="#1a1a1a" stroke-width="0.85"/>
<line x1="469.5" x2="470.4" y1="183.2" y2="183.2" stroke="#1a1a1a" stroke-width="0.7" stroke-opacity="0.55"/>
<line x1="468.6" x2="469.5" y1="181.5" y2="181.5" stroke="#1a1a1a" stroke-width="0.7" stroke-opacity="0.55"/>
<line x1="471.5" x2="471.5" y1="177.5" y2="200.6" stroke="#1a1a1a" stroke-width="0.85"/>
<line x1="471.5" x2="472.4" y1="194.8" y2="194.8" stroke="#1a1a1a" stroke-width="0.7" stroke-opacity="0.55"/>
<line x1="470.6" x2="471.5" y1="184.4" y2="184.4" stroke="#1a1a1a" stroke-width="0.7" stroke-opacity="0.55"/>
<line x1="473.5" x2="473.5" y1="191.3" y2="199.9" stroke="#1a1a1a" stroke-width="0.85"/>
<line x1="473.5" x2="474.4" y1="197.8" y2="197.8" stroke="#1a1a1a" stroke-width="0.7" stroke-opacity="0.55"/>
<line x1="472.6" x2="473.5" y1="193.9" y2="193.9" stroke="#1a1a1a" stroke-width="0.7" stroke-opacity="0.55"/>
<line x1="475.5" x2="475.5" y1="194.2" y2="213.3" stroke="#1a1a1a" stroke-width="0.85"/>
<line x1="475.5" x2="476.4" y1="208.5" y2="208.5" stroke="#1a1a1a" stroke-width="0.7" stroke-opacity="0.55"/>
<line x1="474.6" x2="475.5" y1="199.9" y2="199.9" stroke="#1a1a1a" stroke-width="0.7" stroke-opacity="0.55"/>
<line x1="478.5" x2="478.5" y1="204.8" y2="216.2" stroke="#1a1a1a" stroke-width="0.85"/>
<line x1="478.5" x2="479.4" y1="207.7" y2="207.7" stroke="#1a1a1a" stroke-width="0.7" stroke-opacity="0.55"/>
<line x1="477.6" x2="478.5" y1="208.2" y2="208.2" stroke="#1a1a1a" stroke-width="0.7" stroke-opacity="0.55"/>
<line x1="480.5" x2="480.5" y1="202.7" y2="216.2" stroke="#1a1a1a" stroke-width="0.85"/>
<line x1="480.5" x2="481.4" y1="206.1" y2="206.1" stroke="#1a1a1a" stroke-width="0.7" stroke-opacity="0.55"/>
<line x1="479.6" x2="480.5" y1="212.1" y2="212.1" stroke="#1a1a1a" stroke-width="0.7" stroke-opacity="0.55"/>
<line x1="482.5" x2="482.5" y1="194.9" y2="207.7" stroke="#1a1a1a" stroke-width="0.85"/>
<line x1="482.5" x2="483.4" y1="198.1" y2="198.1" stroke="#1a1a1a" stroke-width="0.7" stroke-opacity="0.55"/>
<line x1="481.6" x2="482.5" y1="203.9" y2="203.9" stroke="#1a1a1a" stroke-width="0.7" stroke-opacity="0.55"/>
<line x1="485.0" x2="485.0" y1="189.2" y2="202.7" stroke="#1a1a1a" stroke-width="0.72"/>
<line x1="485.0" x2="485.9" y1="199.3" y2="199.3" stroke="#1a1a1a" stroke-width="0.7" stroke-opacity="0.55"/>
<line x1="484.1" x2="485.0" y1="198.6" y2="198.6" stroke="#1a1a1a" stroke-width="0.7" stroke-opacity="0.55"/>
<line x1="486.8" x2="486.8" y1="190.6" y2="223.3" stroke="#1a1a1a" stroke-width="0.72"/>
<line x1="486.8" x2="487.7" y1="198.8" y2="198.8" stroke="#1a1a1a" stroke-width="0.7" stroke-opacity="0.55"/>
<line x1="485.9" x2="486.8" y1="200.4" y2="200.4" stroke="#1a1a1a" stroke-width="0.7" stroke-opacity="0.55"/>
<line x1="489.5" x2="489.5" y1="197.7" y2="215.5" stroke="#1a1a1a" stroke-width="0.85"/>
<line x1="489.5" x2="490.4" y1="202.1" y2="202.1" stroke="#1a1a1a" stroke-width="0.7" stroke-opacity="0.55"/>
<line x1="488.6" x2="489.5" y1="210.2" y2="210.2" stroke="#1a1a1a" stroke-width="0.7" stroke-opacity="0.55"/>
<line x1="491.5" x2="491.5" y1="194.9" y2="205.5" stroke="#1a1a1a" stroke-width="0.85"/>
<line x1="491.5" x2="492.4" y1="202.8" y2="202.8" stroke="#1a1a1a" stroke-width="0.7" stroke-opacity="0.55"/>
<line x1="490.6" x2="491.5" y1="202.3" y2="202.3" stroke="#1a1a1a" stroke-width="0.7" stroke-opacity="0.55"/>
<line x1="493.5" x2="493.5" y1="197.7" y2="218.3" stroke="#1a1a1a" stroke-width="0.85"/>
<line x1="493.5" x2="494.4" y1="213.2" y2="213.2" stroke="#1a1a1a" stroke-width="0.7" stroke-opacity="0.55"/>
<line x1="492.6" x2="493.5" y1="203.9" y2="203.9" stroke="#1a1a1a" stroke-width="0.7" stroke-opacity="0.55"/>
<line x1="496.5" x2="496.5" y1="204.8" y2="218.3" stroke="#1a1a1a" stroke-width="0.85"/>
<line x1="496.5" x2="497.4" y1="214.9" y2="214.9" stroke="#1a1a1a" stroke-width="0.7" stroke-opacity="0.55"/>
<line x1="495.6" x2="496.5" y1="208.9" y2="208.9" stroke="#1a1a1a" stroke-width="0.7" stroke-opacity="0.55"/>
<line x1="498.5" x2="498.5" y1="214.0" y2="250.5" stroke="#1a1a1a" stroke-width="0.85"/>
<line x1="498.5" x2="499.4" y1="241.4" y2="241.4" stroke="#1a1a1a" stroke-width="0.7" stroke-opacity="0.55"/>
<line x1="497.6" x2="498.5" y1="224.9" y2="224.9" stroke="#1a1a1a" stroke-width="0.7" stroke-opacity="0.55"/>
<line x1="500.5" x2="500.5" y1="236.5" y2="246.3" stroke="#1a1a1a" stroke-width="0.85"/>
<line x1="500.5" x2="501.4" y1="243.9" y2="243.9" stroke="#1a1a1a" stroke-width="0.7" stroke-opacity="0.55"/>
<line x1="499.6" x2="500.5" y1="239.4" y2="239.4" stroke="#1a1a1a" stroke-width="0.7" stroke-opacity="0.55"/>
<line x1="502.5" x2="502.5" y1="233.4" y2="251.2" stroke="#1a1a1a" stroke-width="0.85"/>
<line x1="502.5" x2="503.4" y1="237.8" y2="237.8" stroke="#1a1a1a" stroke-width="0.7" stroke-opacity="0.55"/>
<line x1="501.6" x2="502.5" y1="238.7" y2="238.7" stroke="#1a1a1a" stroke-width="0.7" stroke-opacity="0.55"/>
<line x1="504.5" x2="504.5" y1="235.6" y2="247.0" stroke="#1a1a1a" stroke-width="0.85"/>
<line x1="504.5" x2="505.4" y1="244.2" y2="244.2" stroke="#1a1a1a" stroke-width="0.7" stroke-opacity="0.55"/>
<line x1="503.6" x2="504.5" y1="243.6" y2="243.6" stroke="#1a1a1a" stroke-width="0.7" stroke-opacity="0.55"/>
<line x1="506.9" x2="506.9" y1="234.9" y2="266.8" stroke="#1a1a1a" stroke-width="0.72"/>
<line x1="506.9" x2="507.8" y1="258.8" y2="258.8" stroke="#1a1a1a" stroke-width="0.7" stroke-opacity="0.55"/>
<line x1="506.0" x2="506.9" y1="244.5" y2="244.5" stroke="#1a1a1a" stroke-width="0.7" stroke-opacity="0.55"/>
<line x1="509.5" x2="509.5" y1="250.5" y2="270.1" stroke="#1a1a1a" stroke-width="0.85"/>
<line x1="509.5" x2="510.4" y1="255.4" y2="255.4" stroke="#1a1a1a" stroke-width="0.7" stroke-opacity="0.55"/>
<line x1="508.6" x2="509.5" y1="256.4" y2="256.4" stroke="#1a1a1a" stroke-width="0.7" stroke-opacity="0.55"/>
<line x1="511.5" x2="511.5" y1="249.8" y2="264.0" stroke="#1a1a1a" stroke-width="0.85"/>
<line x1="511.5" x2="512.4" y1="253.4" y2="253.4" stroke="#1a1a1a" stroke-width="0.7" stroke-opacity="0.55"/>
<line x1="510.6" x2="511.5" y1="259.7" y2="259.7" stroke="#1a1a1a" stroke-width="0.7" stroke-opacity="0.55"/>
<line x1="514.0" x2="514.0" y1="239.2" y2="258.3" stroke="#1a1a1a" stroke-width="0.72"/>
<line x1="514.0" x2="514.9" y1="244.0" y2="244.0" stroke="#1a1a1a" stroke-width="0.7" stroke-opacity="0.55"/>
<line x1="513.1" x2="514.0" y1="252.6" y2="252.6" stroke="#1a1a1a" stroke-width="0.7" stroke-opacity="0.55"/>
<line x1="516.1" x2="516.1" y1="240.6" y2="252.7" stroke="#1a1a1a" stroke-width="0.72"/>
<line x1="516.1" x2="517.0" y1="243.6" y2="243.6" stroke="#1a1a1a" stroke-width="0.7" stroke-opacity="0.55"/>
<line x1="515.2" x2="516.1" y1="249.1" y2="249.1" stroke="#1a1a1a" stroke-width="0.7" stroke-opacity="0.55"/>
<line x1="518.5" x2="518.5" y1="228.4" y2="254.8" stroke="#1a1a1a" stroke-width="0.85"/>
<line x1="518.5" x2="519.4" y1="235.0" y2="235.0" stroke="#1a1a1a" stroke-width="0.7" stroke-opacity="0.55"/>
<line x1="517.6" x2="518.5" y1="246.9" y2="246.9" stroke="#1a1a1a" stroke-width="0.7" stroke-opacity="0.55"/>
<line x1="520.5" x2="520.5" y1="223.3" y2="233.7" stroke="#1a1a1a" stroke-width="0.85"/>
<line x1="520.5" x2="521.4" y1="225.9" y2="225.9" stroke="#1a1a1a" stroke-width="0.7" stroke-opacity="0.55"/>
<line x1="519.6" x2="520.5" y1="230.6" y2="230.6" stroke="#1a1a1a" stroke-width="0.7" stroke-opacity="0.55"/>
<line x1="522.5" x2="522.5" y1="210.5" y2="232.5" stroke="#1a1a1a" stroke-width="0.85"/>
<line x1="522.5" x2="523.4" y1="216.0" y2="216.0" stroke="#1a1a1a" stroke-width="0.7" stroke-opacity="0.55"/>
<line x1="521.6" x2="522.5" y1="225.9" y2="225.9" stroke="#1a1a1a" stroke-width="0.7" stroke-opacity="0.55"/>
<line x1="524.5" x2="524.5" y1="211.9" y2="224.0" stroke="#1a1a1a" stroke-width="0.85"/>
<line x1="524.5" x2="525.4" y1="214.9" y2="214.9" stroke="#1a1a1a" stroke-width="0.7" stroke-opacity="0.55"/>
<line x1="523.6" x2="524.5" y1="220.4" y2="220.4" stroke="#1a1a1a" stroke-width="0.7" stroke-opacity="0.55"/>
<line x1="527.5" x2="527.5" y1="206.2" y2="224.7" stroke="#1a1a1a" stroke-width="0.85"/>
<line x1="527.5" x2="528.4" y1="210.8" y2="210.8" stroke="#1a1a1a" stroke-width="0.7" stroke-opacity="0.55"/>
<line x1="526.6" x2="527.5" y1="219.1" y2="219.1" stroke="#1a1a1a" stroke-width="0.7" stroke-opacity="0.55"/>
<line x1="529.5" x2="529.5" y1="193.5" y2="212.6" stroke="#1a1a1a" stroke-width="0.85"/>
<line x1="529.5" x2="530.4" y1="198.3" y2="198.3" stroke="#1a1a1a" stroke-width="0.7" stroke-opacity="0.55"/>
<line x1="528.6" x2="529.5" y1="206.9" y2="206.9" stroke="#1a1a1a" stroke-width="0.7" stroke-opacity="0.55"/>
<line x1="531.5" x2="531.5" y1="189.2" y2="198.4" stroke="#1a1a1a" stroke-width="0.85"/>
<line x1="531.5" x2="532.4" y1="196.1" y2="196.1" stroke="#1a1a1a" stroke-width="0.7" stroke-opacity="0.55"/>
<line x1="530.6" x2="531.5" y1="195.6" y2="195.6" stroke="#1a1a1a" stroke-width="0.7" stroke-opacity="0.55"/>
<line x1="533.5" x2="533.5" y1="191.3" y2="207.7" stroke="#1a1a1a" stroke-width="0.85"/>
<line x1="533.5" x2="534.4" y1="195.4" y2="195.4" stroke="#1a1a1a" stroke-width="0.7" stroke-opacity="0.55"/>
<line x1="532.6" x2="533.5" y1="196.2" y2="196.2" stroke="#1a1a1a" stroke-width="0.7" stroke-opacity="0.55"/>
<line x1="535.9" x2="535.9" y1="182.3" y2="211.9" stroke="#1a1a1a" stroke-width="0.72"/>
<line x1="535.9" x2="536.8" y1="189.7" y2="189.7" stroke="#1a1a1a" stroke-width="0.7" stroke-opacity="0.55"/>
<line x1="535.0" x2="535.9" y1="203.0" y2="203.0" stroke="#1a1a1a" stroke-width="0.7" stroke-opacity="0.55"/>
<line x1="538.5" x2="538.5" y1="179.6" y2="196.3" stroke="#1a1a1a" stroke-width="0.85"/>
<line x1="538.5" x2="539.4" y1="183.8" y2="183.8" stroke="#1a1a1a" stroke-width="0.7" stroke-opacity="0.55"/>
<line x1="537.6" x2="538.5" y1="191.3" y2="191.3" stroke="#1a1a1a" stroke-width="0.7" stroke-opacity="0.55"/>
<line x1="540.5" x2="540.5" y1="171.1" y2="192.0" stroke="#1a1a1a" stroke-width="0.85"/>
<line x1="540.5" x2="541.4" y1="176.3" y2="176.3" stroke="#1a1a1a" stroke-width="0.7" stroke-opacity="0.55"/>
<line x1="539.6" x2="540.5" y1="185.7" y2="185.7" stroke="#1a1a1a" stroke-width="0.7" stroke-opacity="0.55"/>
<line x1="542.5" x2="542.5" y1="171.8" y2="178.9" stroke="#1a1a1a" stroke-width="0.85"/>
<line x1="542.5" x2="543.4" y1="173.6" y2="173.6" stroke="#1a1a1a" stroke-width="0.7" stroke-opacity="0.55"/>
<line x1="541.6" x2="542.5" y1="176.8" y2="176.8" stroke="#1a1a1a" stroke-width="0.7" stroke-opacity="0.55"/>
<line x1="545.5" x2="545.5" y1="166.2" y2="183.0" stroke="#1a1a1a" stroke-width="0.85"/>
<line x1="545.5" x2="546.4" y1="178.8" y2="178.8" stroke="#1a1a1a" stroke-width="0.7" stroke-opacity="0.55"/>
<line x1="544.6" x2="545.5" y1="178.0" y2="178.0" stroke="#1a1a1a" stroke-width="0.7" stroke-opacity="0.55"/>
<line x1="547.5" x2="547.5" y1="167.6" y2="190.6" stroke="#1a1a1a" stroke-width="0.85"/>
<line x1="547.5" x2="548.4" y1="184.8" y2="184.8" stroke="#1a1a1a" stroke-width="0.7" stroke-opacity="0.55"/>
<line x1="546.6" x2="547.5" y1="174.5" y2="174.5" stroke="#1a1a1a" stroke-width="0.7" stroke-opacity="0.55"/>
<line x1="549.5" x2="549.5" y1="171.1" y2="187.2" stroke="#1a1a1a" stroke-width="0.85"/>
<line x1="549.5" x2="550.4" y1="183.2" y2="183.2" stroke="#1a1a1a" stroke-width="0.7" stroke-opacity="0.55"/>
<line x1="548.6" x2="549.5" y1="175.9" y2="175.9" stroke="#1a1a1a" stroke-width="0.7" stroke-opacity="0.55"/>
<line x1="551.5" x2="551.5" y1="172.6" y2="196.3" stroke="#1a1a1a" stroke-width="0.85"/>
<line x1="551.5" x2="552.4" y1="190.4" y2="190.4" stroke="#1a1a1a" stroke-width="0.7" stroke-opacity="0.55"/>
<line x1="550.6" x2="551.5" y1="179.7" y2="179.7" stroke="#1a1a1a" stroke-width="0.7" stroke-opacity="0.55"/>
<line x1="553.5" x2="553.5" y1="187.8" y2="194.2" stroke="#1a1a1a" stroke-width="0.85"/>
<line x1="553.5" x2="554.4" y1="189.4" y2="189.4" stroke="#1a1a1a" stroke-width="0.7" stroke-opacity="0.55"/>
<line x1="552.6" x2="553.5" y1="189.7" y2="189.7" stroke="#1a1a1a" stroke-width="0.7" stroke-opacity="0.55"/>
<line x1="555.5" x2="555.5" y1="179.6" y2="200.6" stroke="#1a1a1a" stroke-width="0.85"/>
<line x1="555.5" x2="556.4" y1="184.8" y2="184.8" stroke="#1a1a1a" stroke-width="0.7" stroke-opacity="0.55"/>
<line x1="554.6" x2="555.5" y1="194.3" y2="194.3" stroke="#1a1a1a" stroke-width="0.7" stroke-opacity="0.55"/>
<line x1="558.5" x2="558.5" y1="164.0" y2="185.1" stroke="#1a1a1a" stroke-width="0.85"/>
<line x1="558.5" x2="559.4" y1="169.3" y2="169.3" stroke="#1a1a1a" stroke-width="0.7" stroke-opacity="0.55"/>
<line x1="557.6" x2="558.5" y1="178.8" y2="178.8" stroke="#1a1a1a" stroke-width="0.7" stroke-opacity="0.55"/>
<line x1="560.5" x2="560.5" y1="146.3" y2="164.8" stroke="#1a1a1a" stroke-width="0.85"/>
<line x1="560.5" x2="561.4" y1="150.9" y2="150.9" stroke="#1a1a1a" stroke-width="0.7" stroke-opacity="0.55"/>
<line x1="559.6" x2="560.5" y1="159.2" y2="159.2" stroke="#1a1a1a" stroke-width="0.7" stroke-opacity="0.55"/>
<line x1="563.5" x2="563.5" y1="139.9" y2="155.5" stroke="#1a1a1a" stroke-width="0.85"/>
<line x1="563.5" x2="564.4" y1="151.6" y2="151.6" stroke="#1a1a1a" stroke-width="0.7" stroke-opacity="0.55"/>
<line x1="562.6" x2="563.5" y1="150.8" y2="150.8" stroke="#1a1a1a" stroke-width="0.7" stroke-opacity="0.55"/>
<line x1="565.5" x2="565.5" y1="143.5" y2="159.5" stroke="#1a1a1a" stroke-width="0.85"/>
<line x1="565.5" x2="566.4" y1="155.5" y2="155.5" stroke="#1a1a1a" stroke-width="0.7" stroke-opacity="0.55"/>
<line x1="564.6" x2="565.5" y1="148.3" y2="148.3" stroke="#1a1a1a" stroke-width="0.7" stroke-opacity="0.55"/>
<line x1="567.5" x2="567.5" y1="158.4" y2="177.2" stroke="#1a1a1a" stroke-width="0.85"/>
<line x1="567.5" x2="568.4" y1="163.1" y2="163.1" stroke="#1a1a1a" stroke-width="0.7" stroke-opacity="0.55"/>
<line x1="566.6" x2="567.5" y1="164.0" y2="164.0" stroke="#1a1a1a" stroke-width="0.7" stroke-opacity="0.55"/>
<line x1="569.5" x2="569.5" y1="151.3" y2="176.5" stroke="#1a1a1a" stroke-width="0.85"/>
<line x1="569.5" x2="570.4" y1="157.6" y2="157.6" stroke="#1a1a1a" stroke-width="0.7" stroke-opacity="0.55"/>
<line x1="568.6" x2="569.5" y1="168.9" y2="168.9" stroke="#1a1a1a" stroke-width="0.7" stroke-opacity="0.55"/>
<line x1="571.5" x2="571.5" y1="142.8" y2="154.9" stroke="#1a1a1a" stroke-width="0.85"/>
<line x1="571.5" x2="572.4" y1="145.8" y2="145.8" stroke="#1a1a1a" stroke-width="0.7" stroke-opacity="0.55"/>
<line x1="570.6" x2="571.5" y1="151.3" y2="151.3" stroke="#1a1a1a" stroke-width="0.7" stroke-opacity="0.55"/>
<line x1="573.5" x2="573.5" y1="126.1" y2="152.0" stroke="#1a1a1a" stroke-width="0.85"/>
<line x1="573.5" x2="574.4" y1="145.5" y2="145.5" stroke="#1a1a1a" stroke-width="0.7" stroke-opacity="0.55"/>
<line x1="572.6" x2="573.5" y1="144.2" y2="144.2" stroke="#1a1a1a" stroke-width="0.7" stroke-opacity="0.55"/>
<line x1="576.5" x2="576.5" y1="136.8" y2="154.9" stroke="#1a1a1a" stroke-width="0.85"/>
<line x1="576.5" x2="577.4" y1="150.4" y2="150.4" stroke="#1a1a1a" stroke-width="0.7" stroke-opacity="0.55"/>
<line x1="575.6" x2="576.5" y1="142.2" y2="142.2" stroke="#1a1a1a" stroke-width="0.7" stroke-opacity="0.55"/>
<line x1="578.5" x2="578.5" y1="139.5" y2="155.6" stroke="#1a1a1a" stroke-width="0.85"/>
<line x1="578.5" x2="579.4" y1="143.5" y2="143.5" stroke="#1a1a1a" stroke-width="0.7" stroke-opacity="0.55"/>
<line x1="577.6" x2="578.5" y1="144.3" y2="144.3" stroke="#1a1a1a" stroke-width="0.7" stroke-opacity="0.55"/>
<line x1="580.5" x2="580.5" y1="140.5" y2="154.1" stroke="#1a1a1a" stroke-width="0.85"/>
<line x1="580.5" x2="581.4" y1="143.9" y2="143.9" stroke="#1a1a1a" stroke-width="0.7" stroke-opacity="0.55"/>
<line x1="579.6" x2="580.5" y1="150.0" y2="150.0" stroke="#1a1a1a" stroke-width="0.7" stroke-opacity="0.55"/>
<line x1="582.5" x2="582.5" y1="141.0" y2="150.6" stroke="#1a1a1a" stroke-width="0.85"/>
<line x1="582.5" x2="583.4" y1="148.2" y2="148.2" stroke="#1a1a1a" stroke-width="0.7" stroke-opacity="0.55"/>
<line x1="581.6" x2="582.5" y1="147.7" y2="147.7" stroke="#1a1a1a" stroke-width="0.7" stroke-opacity="0.55"/>
<line x1="584.5" x2="584.5" y1="136.8" y2="162.7" stroke="#1a1a1a" stroke-width="0.85"/>
<line x1="584.5" x2="585.4" y1="143.3" y2="143.3" stroke="#1a1a1a" stroke-width="0.7" stroke-opacity="0.55"/>
<line x1="583.6" x2="584.5" y1="144.6" y2="144.6" stroke="#1a1a1a" stroke-width="0.7" stroke-opacity="0.55"/>
<line x1="587.5" x2="587.5" y1="94.2" y2="139.6" stroke="#1a1a1a" stroke-width="0.85"/>
<line x1="587.5" x2="588.4" y1="105.5" y2="105.5" stroke="#1a1a1a" stroke-width="0.7" stroke-opacity="0.55"/>
<line x1="586.6" x2="587.5" y1="126.0" y2="126.0" stroke="#1a1a1a" stroke-width="0.7" stroke-opacity="0.55"/>
<line x1="589.5" x2="589.5" y1="89.4" y2="120.5" stroke="#1a1a1a" stroke-width="0.85"/>
<line x1="589.5" x2="590.4" y1="112.7" y2="112.7" stroke="#1a1a1a" stroke-width="0.7" stroke-opacity="0.55"/>
<line x1="588.6" x2="589.5" y1="111.2" y2="111.2" stroke="#1a1a1a" stroke-width="0.7" stroke-opacity="0.55"/>
<line x1="592.5" x2="592.5" y1="108.4" y2="117.0" stroke="#1a1a1a" stroke-width="0.85"/>
<line x1="592.5" x2="593.4" y1="110.6" y2="110.6" stroke="#1a1a1a" stroke-width="0.7" stroke-opacity="0.55"/>
<line x1="591.6" x2="592.5" y1="111.0" y2="111.0" stroke="#1a1a1a" stroke-width="0.7" stroke-opacity="0.55"/>
<line x1="594.5" x2="594.5" y1="92.0" y2="127.6" stroke="#1a1a1a" stroke-width="0.85"/>
<line x1="594.5" x2="595.4" y1="100.9" y2="100.9" stroke="#1a1a1a" stroke-width="0.7" stroke-opacity="0.55"/>
<line x1="593.6" x2="594.5" y1="116.9" y2="116.9" stroke="#1a1a1a" stroke-width="0.7" stroke-opacity="0.55"/>
<line x1="596.5" x2="596.5" y1="84.6" y2="102.7" stroke="#1a1a1a" stroke-width="0.85"/>
<line x1="596.5" x2="597.4" y1="89.1" y2="89.1" stroke="#1a1a1a" stroke-width="0.7" stroke-opacity="0.55"/>
<line x1="595.6" x2="596.5" y1="97.3" y2="97.3" stroke="#1a1a1a" stroke-width="0.7" stroke-opacity="0.55"/>
<line x1="598.5" x2="598.5" y1="71.9" y2="79.0" stroke="#1a1a1a" stroke-width="0.85"/>
<line x1="598.5" x2="599.4" y1="73.7" y2="73.7" stroke="#1a1a1a" stroke-width="0.7" stroke-opacity="0.55"/>
<line x1="597.6" x2="598.5" y1="76.9" y2="76.9" stroke="#1a1a1a" stroke-width="0.7" stroke-opacity="0.55"/>
<line x1="600.5" x2="600.5" y1="61.2" y2="88.2" stroke="#1a1a1a" stroke-width="0.85"/>
<line x1="600.5" x2="601.4" y1="68.0" y2="68.0" stroke="#1a1a1a" stroke-width="0.7" stroke-opacity="0.55"/>
<line x1="599.6" x2="600.5" y1="80.1" y2="80.1" stroke="#1a1a1a" stroke-width="0.7" stroke-opacity="0.55"/>
<line x1="602.5" x2="602.5" y1="64.1" y2="79.0" stroke="#1a1a1a" stroke-width="0.85"/>
<line x1="602.5" x2="603.4" y1="67.8" y2="67.8" stroke="#1a1a1a" stroke-width="0.7" stroke-opacity="0.55"/>
<line x1="601.6" x2="602.5" y1="74.5" y2="74.5" stroke="#1a1a1a" stroke-width="0.7" stroke-opacity="0.55"/>
<line x1="604.5" x2="604.5" y1="53.4" y2="78.3" stroke="#1a1a1a" stroke-width="0.85"/>
<line x1="604.5" x2="605.4" y1="59.6" y2="59.6" stroke="#1a1a1a" stroke-width="0.7" stroke-opacity="0.55"/>
<line x1="603.6" x2="604.5" y1="70.8" y2="70.8" stroke="#1a1a1a" stroke-width="0.7" stroke-opacity="0.55"/>
<line x1="606.5" x2="606.5" y1="41.0" y2="62.0" stroke="#1a1a1a" stroke-width="0.85"/>
<line x1="606.5" x2="607.4" y1="56.8" y2="56.8" stroke="#1a1a1a" stroke-width="0.7" stroke-opacity="0.55"/>
<line x1="605.6" x2="606.5" y1="55.7" y2="55.7" stroke="#1a1a1a" stroke-width="0.7" stroke-opacity="0.55"/>
<line x1="609.5" x2="609.5" y1="70.5" y2="88.2" stroke="#1a1a1a" stroke-width="0.85"/>
<line x1="609.5" x2="610.4" y1="83.8" y2="83.8" stroke="#1a1a1a" stroke-width="0.7" stroke-opacity="0.55"/>
<line x1="608.6" x2="609.5" y1="75.8" y2="75.8" stroke="#1a1a1a" stroke-width="0.7" stroke-opacity="0.55"/>
<line x1="612.0" x2="612.0" y1="76.8" y2="92.0" stroke="#1a1a1a" stroke-width="0.72"/>
<line x1="612.0" x2="612.9" y1="88.2" y2="88.2" stroke="#1a1a1a" stroke-width="0.7" stroke-opacity="0.55"/>
<line x1="611.1" x2="612.0" y1="81.4" y2="81.4" stroke="#1a1a1a" stroke-width="0.7" stroke-opacity="0.55"/>
<line x1="613.5" x2="613.5" y1="76.0" y2="95.6" stroke="#1a1a1a" stroke-width="0.85"/>
<line x1="613.5" x2="614.4" y1="90.7" y2="90.7" stroke="#1a1a1a" stroke-width="0.7" stroke-opacity="0.55"/>
<line x1="612.6" x2="613.5" y1="81.9" y2="81.9" stroke="#1a1a1a" stroke-width="0.7" stroke-opacity="0.55"/>
<line x1="616.1" x2="616.1" y1="76.1" y2="104.1" stroke="#1a1a1a" stroke-width="0.72"/>
<line x1="616.1" x2="617.0" y1="83.1" y2="83.1" stroke="#1a1a1a" stroke-width="0.7" stroke-opacity="0.55"/>
<line x1="615.2" x2="616.1" y1="84.5" y2="84.5" stroke="#1a1a1a" stroke-width="0.7" stroke-opacity="0.55"/>
<line x1="618.5" x2="618.5" y1="76.0" y2="98.5" stroke="#1a1a1a" stroke-width="0.85"/>
<line x1="618.5" x2="619.4" y1="92.9" y2="92.9" stroke="#1a1a1a" stroke-width="0.7" stroke-opacity="0.55"/>
<line x1="617.6" x2="618.5" y1="91.8" y2="91.8" stroke="#1a1a1a" stroke-width="0.7" stroke-opacity="0.55"/>
<line x1="620.5" x2="620.5" y1="98.5" y2="121.2" stroke="#1a1a1a" stroke-width="0.85"/>
<line x1="620.5" x2="621.4" y1="115.5" y2="115.5" stroke="#1a1a1a" stroke-width="0.7" stroke-opacity="0.55"/>
<line x1="619.6" x2="620.5" y1="105.3" y2="105.3" stroke="#1a1a1a" stroke-width="0.7" stroke-opacity="0.55"/>
<line x1="622.5" x2="622.5" y1="109.8" y2="120.5" stroke="#1a1a1a" stroke-width="0.85"/>
<line x1="622.5" x2="623.4" y1="117.8" y2="117.8" stroke="#1a1a1a" stroke-width="0.7" stroke-opacity="0.55"/>
<line x1="621.6" x2="622.5" y1="113.0" y2="113.0" stroke="#1a1a1a" stroke-width="0.7" stroke-opacity="0.55"/>
<line x1="624.5" x2="624.5" y1="104.1" y2="133.9" stroke="#1a1a1a" stroke-width="0.85"/>
<line x1="624.5" x2="625.4" y1="126.5" y2="126.5" stroke="#1a1a1a" stroke-width="0.7" stroke-opacity="0.55"/>
<line x1="623.6" x2="624.5" y1="113.0" y2="113.0" stroke="#1a1a1a" stroke-width="0.7" stroke-opacity="0.55"/>
<line x1="627.5" x2="627.5" y1="126.1" y2="145.6" stroke="#1a1a1a" stroke-width="0.85"/>
<line x1="627.5" x2="628.4" y1="131.0" y2="131.0" stroke="#1a1a1a" stroke-width="0.7" stroke-opacity="0.55"/>
<line x1="626.6" x2="627.5" y1="131.9" y2="131.9" stroke="#1a1a1a" stroke-width="0.7" stroke-opacity="0.55"/>
<line x1="629.5" x2="629.5" y1="129.0" y2="141.7" stroke="#1a1a1a" stroke-width="0.85"/>
<line x1="629.5" x2="630.4" y1="132.2" y2="132.2" stroke="#1a1a1a" stroke-width="0.7" stroke-opacity="0.55"/>
<line x1="628.6" x2="629.5" y1="137.9" y2="137.9" stroke="#1a1a1a" stroke-width="0.7" stroke-opacity="0.55"/>
<line x1="632.0" x2="632.0" y1="110.5" y2="141.5" stroke="#1a1a1a" stroke-width="0.72"/>
<line x1="632.0" x2="632.9" y1="118.2" y2="118.2" stroke="#1a1a1a" stroke-width="0.7" stroke-opacity="0.55"/>
<line x1="631.1" x2="632.0" y1="132.2" y2="132.2" stroke="#1a1a1a" stroke-width="0.7" stroke-opacity="0.55"/>
<line x1="634.0" x2="634.0" y1="107.0" y2="138.9" stroke="#1a1a1a" stroke-width="0.72"/>
<line x1="634.0" x2="634.9" y1="130.9" y2="130.9" stroke="#1a1a1a" stroke-width="0.7" stroke-opacity="0.55"/>
<line x1="633.1" x2="634.0" y1="129.3" y2="129.3" stroke="#1a1a1a" stroke-width="0.7" stroke-opacity="0.55"/>
<line x1="636.5" x2="636.5" y1="133.2" y2="155.6" stroke="#1a1a1a" stroke-width="0.85"/>
<line x1="636.5" x2="637.4" y1="150.0" y2="150.0" stroke="#1a1a1a" stroke-width="0.7" stroke-opacity="0.55"/>
<line x1="635.6" x2="636.5" y1="139.9" y2="139.9" stroke="#1a1a1a" stroke-width="0.7" stroke-opacity="0.55"/>
<line x1="638.5" x2="638.5" y1="143.5" y2="161.2" stroke="#1a1a1a" stroke-width="0.85"/>
<line x1="638.5" x2="639.4" y1="156.8" y2="156.8" stroke="#1a1a1a" stroke-width="0.7" stroke-opacity="0.55"/>
<line x1="637.6" x2="638.5" y1="148.8" y2="148.8" stroke="#1a1a1a" stroke-width="0.7" stroke-opacity="0.55"/>
<line x1="640.5" x2="640.5" y1="142.8" y2="162.0" stroke="#1a1a1a" stroke-width="0.85"/>
<line x1="640.5" x2="641.4" y1="157.2" y2="157.2" stroke="#1a1a1a" stroke-width="0.7" stroke-opacity="0.55"/>
<line x1="639.6" x2="640.5" y1="148.6" y2="148.6" stroke="#1a1a1a" stroke-width="0.7" stroke-opacity="0.55"/>
<line x1="643.5" x2="643.5" y1="160.5" y2="172.6" stroke="#1a1a1a" stroke-width="0.85"/>
<line x1="643.5" x2="644.4" y1="169.6" y2="169.6" stroke="#1a1a1a" stroke-width="0.7" stroke-opacity="0.55"/>
<line x1="642.6" x2="643.5" y1="164.1" y2="164.1" stroke="#1a1a1a" stroke-width="0.7" stroke-opacity="0.55"/>
<line x1="645.5" x2="645.5" y1="165.5" y2="175.4" stroke="#1a1a1a" stroke-width="0.85"/>
<line x1="645.5" x2="646.4" y1="168.0" y2="168.0" stroke="#1a1a1a" stroke-width="0.7" stroke-opacity="0.55"/>
<line x1="644.6" x2="645.5" y1="168.5" y2="168.5" stroke="#1a1a1a" stroke-width="0.7" stroke-opacity="0.55"/>
<line x1="647.5" x2="647.5" y1="154.9" y2="176.1" stroke="#1a1a1a" stroke-width="0.85"/>
<line x1="647.5" x2="648.4" y1="170.8" y2="170.8" stroke="#1a1a1a" stroke-width="0.7" stroke-opacity="0.55"/>
<line x1="646.6" x2="647.5" y1="169.7" y2="169.7" stroke="#1a1a1a" stroke-width="0.7" stroke-opacity="0.55"/>
<line x1="649.5" x2="649.5" y1="159.1" y2="178.3" stroke="#1a1a1a" stroke-width="0.85"/>
<line x1="649.5" x2="650.4" y1="173.5" y2="173.5" stroke="#1a1a1a" stroke-width="0.7" stroke-opacity="0.55"/>
<line x1="648.6" x2="649.5" y1="164.9" y2="164.9" stroke="#1a1a1a" stroke-width="0.7" stroke-opacity="0.55"/>
<line x1="651.5" x2="651.5" y1="162.7" y2="187.5" stroke="#1a1a1a" stroke-width="0.85"/>
<line x1="651.5" x2="652.4" y1="168.9" y2="168.9" stroke="#1a1a1a" stroke-width="0.7" stroke-opacity="0.55"/>
<line x1="650.6" x2="651.5" y1="170.1" y2="170.1" stroke="#1a1a1a" stroke-width="0.7" stroke-opacity="0.55"/>
<line x1="653.5" x2="653.5" y1="149.9" y2="164.8" stroke="#1a1a1a" stroke-width="0.85"/>
<line x1="653.5" x2="654.4" y1="153.6" y2="153.6" stroke="#1a1a1a" stroke-width="0.7" stroke-opacity="0.55"/>
<line x1="652.6" x2="653.5" y1="160.3" y2="160.3" stroke="#1a1a1a" stroke-width="0.7" stroke-opacity="0.55"/>
<line x1="655.5" x2="655.5" y1="136.2" y2="153.4" stroke="#1a1a1a" stroke-width="0.85"/>
<line x1="655.5" x2="656.4" y1="140.5" y2="140.5" stroke="#1a1a1a" stroke-width="0.7" stroke-opacity="0.55"/>
<line x1="654.6" x2="655.5" y1="148.2" y2="148.2" stroke="#1a1a1a" stroke-width="0.7" stroke-opacity="0.55"/>
<line x1="658.5" x2="658.5" y1="137.3" y2="143.5" stroke="#1a1a1a" stroke-width="0.85"/>
<line x1="658.5" x2="659.4" y1="138.9" y2="138.9" stroke="#1a1a1a" stroke-width="0.7" stroke-opacity="0.55"/>
<line x1="657.6" x2="658.5" y1="141.6" y2="141.6" stroke="#1a1a1a" stroke-width="0.7" stroke-opacity="0.55"/>
<line x1="660.5" x2="660.5" y1="130.4" y2="142.0" stroke="#1a1a1a" stroke-width="0.85"/>
<line x1="660.5" x2="661.4" y1="133.3" y2="133.3" stroke="#1a1a1a" stroke-width="0.7" stroke-opacity="0.55"/>
<line x1="659.6" x2="660.5" y1="138.5" y2="138.5" stroke="#1a1a1a" stroke-width="0.7" stroke-opacity="0.55"/>
<line x1="662.5" x2="662.5" y1="120.5" y2="141.7" stroke="#1a1a1a" stroke-width="0.85"/>
<line x1="662.5" x2="663.4" y1="125.8" y2="125.8" stroke="#1a1a1a" stroke-width="0.7" stroke-opacity="0.55"/>
<line x1="661.6" x2="662.5" y1="135.3" y2="135.3" stroke="#1a1a1a" stroke-width="0.7" stroke-opacity="0.55"/>
<line x1="664.5" x2="664.5" y1="117.6" y2="141.7" stroke="#1a1a1a" stroke-width="0.85"/>
<line x1="664.5" x2="665.4" y1="135.7" y2="135.7" stroke="#1a1a1a" stroke-width="0.7" stroke-opacity="0.55"/>
<line x1="663.6" x2="664.5" y1="134.5" y2="134.5" stroke="#1a1a1a" stroke-width="0.7" stroke-opacity="0.55"/>
<line x1="667.5" x2="667.5" y1="129.0" y2="154.1" stroke="#1a1a1a" stroke-width="0.85"/>
<line x1="667.5" x2="668.4" y1="147.8" y2="147.8" stroke="#1a1a1a" stroke-width="0.7" stroke-opacity="0.55"/>
<line x1="666.6" x2="667.5" y1="136.5" y2="136.5" stroke="#1a1a1a" stroke-width="0.7" stroke-opacity="0.55"/>
<line x1="669.5" x2="669.5" y1="142.8" y2="162.0" stroke="#1a1a1a" stroke-width="0.85"/>
<line x1="669.5" x2="670.4" y1="147.6" y2="147.6" stroke="#1a1a1a" stroke-width="0.7" stroke-opacity="0.55"/>
<line x1="668.6" x2="669.5" y1="148.6" y2="148.6" stroke="#1a1a1a" stroke-width="0.7" stroke-opacity="0.55"/>
<line x1="671.5" x2="671.5" y1="140.7" y2="162.7" stroke="#1a1a1a" stroke-width="0.85"/>
<line x1="671.5" x2="672.4" y1="146.2" y2="146.2" stroke="#1a1a1a" stroke-width="0.7" stroke-opacity="0.55"/>
<line x1="670.6" x2="671.5" y1="156.1" y2="156.1" stroke="#1a1a1a" stroke-width="0.7" stroke-opacity="0.55"/>
<line x1="673.5" x2="673.5" y1="142.8" y2="160.5" stroke="#1a1a1a" stroke-width="0.85"/>
<line x1="673.5" x2="674.4" y1="156.1" y2="156.1" stroke="#1a1a1a" stroke-width="0.7" stroke-opacity="0.55"/>
<line x1="672.6" x2="673.5" y1="155.2" y2="155.2" stroke="#1a1a1a" stroke-width="0.7" stroke-opacity="0.55"/>
<line x1="676.5" x2="676.5" y1="152.7" y2="169.0" stroke="#1a1a1a" stroke-width="0.85"/>
<line x1="676.5" x2="677.4" y1="156.8" y2="156.8" stroke="#1a1a1a" stroke-width="0.7" stroke-opacity="0.55"/>
<line x1="675.6" x2="676.5" y1="157.6" y2="157.6" stroke="#1a1a1a" stroke-width="0.7" stroke-opacity="0.55"/>
<line x1="678.5" x2="678.5" y1="152.0" y2="157.7" stroke="#1a1a1a" stroke-width="0.85"/>
<line x1="678.5" x2="679.4" y1="156.3" y2="156.3" stroke="#1a1a1a" stroke-width="0.7" stroke-opacity="0.55"/>
<line x1="677.6" x2="678.5" y1="156.0" y2="156.0" stroke="#1a1a1a" stroke-width="0.7" stroke-opacity="0.55"/>
<text x="178.4" y="44.72" text-anchor="end" font-size="8.8" fill="#808080" textLength="48.2" lengthAdjust="spacingAndGlyphs">0(1357.43)</text>
<text x="178.4" y="127.90" text-anchor="end" font-size="8.8" fill="#cc2828" textLength="67.6" lengthAdjust="spacingAndGlyphs">0.236(1301.92)</text>
<text x="178.4" y="179.36" text-anchor="end" font-size="8.8" fill="#95cc28" textLength="67.6" lengthAdjust="spacingAndGlyphs">0.382(1267.58)</text>
<text x="178.4" y="220.94" text-anchor="end" font-size="8.8" fill="#28cc28" textLength="56.5" lengthAdjust="spacingAndGlyphs">0.5(1239.83)</text>
<text x="178.4" y="262.54" text-anchor="end" font-size="8.8" fill="#28cc95" textLength="67.6" lengthAdjust="spacingAndGlyphs">0.618(1212.07)</text>
<text x="178.4" y="321.75" text-anchor="end" font-size="8.8" fill="#2895cc" textLength="67.6" lengthAdjust="spacingAndGlyphs">0.786(1172.56)</text>
<text x="178.4" y="356.99" text-anchor="end" font-size="8.8" fill="#2828cc" textLength="67.6" lengthAdjust="spacingAndGlyphs">0.886(1149.04)</text>
<text x="178.4" y="397.18" text-anchor="end" font-size="8.8" fill="#808080" textLength="48.2" lengthAdjust="spacingAndGlyphs">1(1122.22)</text>
<text x="808.4" y="44.36" text-anchor="end" font-size="8.8" fill="#808080" textLength="48.2" lengthAdjust="spacingAndGlyphs">0(1357.67)</text>
<text x="808.4" y="98.53" text-anchor="end" font-size="8.8" fill="#cc2828" textLength="67.6" lengthAdjust="spacingAndGlyphs">0.236(1321.52)</text>
<text x="808.4" y="132.04" text-anchor="end" font-size="8.8" fill="#95cc28" textLength="67.6" lengthAdjust="spacingAndGlyphs">0.382(1299.16)</text>
<text x="808.4" y="159.12" text-anchor="end" font-size="8.8" fill="#28cc28" textLength="56.5" lengthAdjust="spacingAndGlyphs">0.5(1281.09)</text>
<text x="808.4" y="186.19" text-anchor="end" font-size="8.8" fill="#28cc95" textLength="67.6" lengthAdjust="spacingAndGlyphs">0.618(1263.02)</text>
<text x="808.4" y="224.75" text-anchor="end" font-size="8.8" fill="#2895cc" textLength="67.6" lengthAdjust="spacingAndGlyphs">0.786(1237.29)</text>
<text x="808.4" y="247.71" text-anchor="end" font-size="8.8" fill="#2828cc" textLength="67.6" lengthAdjust="spacingAndGlyphs">0.886(1221.97)</text>
<text x="808.4" y="273.87" text-anchor="end" font-size="8.8" fill="#808080" textLength="48.2" lengthAdjust="spacingAndGlyphs">1(1204.51)</text>
<rect x="604.9" y="25.8" width="9.4" height="10.7" rx="2.3" fill="#1f8f1f"/>
<text x="609.6" y="34.3" text-anchor="middle" font-size="9" fill="#fff" textLength="5.6" lengthAdjust="spacingAndGlyphs">A</text>
<rect x="623.4" y="75.2" width="27.8" height="10.7" rx="2.3" fill="#1f8f1f"/>
<text x="637.3" y="83.8" text-anchor="middle" font-size="9" fill="#fff" textLength="24.4" lengthAdjust="spacingAndGlyphs">0.466</text>
<rect x="660.2" y="102.0" width="9.4" height="10.7" rx="2.3" fill="#1f8f1f"/>
<text x="664.9" y="110.5" text-anchor="middle" font-size="9" fill="#fff" textLength="5.6" lengthAdjust="spacingAndGlyphs">C</text>
<rect x="646.7" y="191.8" width="9.4" height="10.7" rx="2.3" fill="#1f8f1f"/>
<text x="651.4" y="200.4" text-anchor="middle" font-size="9" fill="#fff" textLength="5.6" lengthAdjust="spacingAndGlyphs">B</text>
<rect x="677.3" y="219.1" width="22" height="10.7" rx="2.3" fill="#1f8f1f"/>
<text x="688.3" y="227.6" text-anchor="middle" font-size="9" fill="#fff" textLength="18.6" lengthAdjust="spacingAndGlyphs">2.01</text>
<rect x="720.3" y="262.0" width="9.8" height="10.7" rx="2.3" fill="#1f8f1f"/>
<text x="725.2" y="270.6" text-anchor="middle" font-size="9" fill="#fff" textLength="5.6" lengthAdjust="spacingAndGlyphs">D</text>
<rect x="601.9" y="25.6" width="9.4" height="10.7" rx="2.3" fill="#cc2895"/>
<text x="606.6" y="34.2" text-anchor="middle" font-size="9" fill="#fff" textLength="5.6" lengthAdjust="spacingAndGlyphs">A</text>
<rect x="622.0" y="75.8" width="27.8" height="10.7" rx="2.3" fill="#cc2895"/>
<text x="635.9" y="84.3" text-anchor="middle" font-size="9" fill="#fff" textLength="24.4" lengthAdjust="spacingAndGlyphs">0.466</text>
<rect x="660.2" y="102.7" width="9.4" height="10.7" rx="2.3" fill="#cc2895"/>
<text x="664.9" y="111.2" text-anchor="middle" font-size="9" fill="#fff" textLength="5.6" lengthAdjust="spacingAndGlyphs">C</text>
<rect x="648.6" y="190.1" width="9.4" height="10.7" rx="2.3" fill="#cc2895"/>
<text x="653.3" y="198.6" text-anchor="middle" font-size="9" fill="#fff" textLength="5.6" lengthAdjust="spacingAndGlyphs">B</text>
<rect x="667.8" y="200.0" width="27.4" height="10.7" rx="2.3" fill="#cc2895"/>
<text x="681.5" y="208.5" text-anchor="middle" font-size="9" fill="#fff" textLength="24.0" lengthAdjust="spacingAndGlyphs">1.537</text>
<rect x="705.1" y="226.0" width="9.4" height="10.7" rx="2.3" fill="#cc2895"/>
<text x="709.8" y="234.5" text-anchor="middle" font-size="9" fill="#fff" textLength="5.6" lengthAdjust="spacingAndGlyphs">D</text>
<rect x="503.9" y="274.4" width="9.9" height="10.7" rx="2.3" fill="#cc2895"/>
<text x="508.8" y="283.0" text-anchor="middle" font-size="9" fill="#fff" textLength="5.6" lengthAdjust="spacingAndGlyphs">X</text>
<rect x="569.8" y="224.7" width="21.5" height="10.7" rx="2.3" fill="#cc2895"/>
<text x="580.5" y="233.2" text-anchor="middle" font-size="9" fill="#fff" textLength="18.1" lengthAdjust="spacingAndGlyphs">0.63</text>
<rect x="595.3" y="242.5" width="27.4" height="10.7" rx="2.3" fill="#cc2895"/>
<text x="609.0" y="251.0" text-anchor="middle" font-size="9" fill="#fff" textLength="24.0" lengthAdjust="spacingAndGlyphs">0.787</text>
<circle cx="671" cy="129.3" r="6.1" fill="#2196f3"/>
<text x="672.4" y="132.2" text-anchor="middle" font-size="8" fill="#fff">P</text>
<rect x="814.8" y="0" width="35.200000000000045" height="430" fill="#fff"/>
<rect x="0" y="415.3" width="850" height="14.699999999999989" fill="#fff"/>
<line x1="814.8" x2="814.8" y1="0" y2="415.3" stroke="#6a6a6a" stroke-width="1"/>
<line x1="0" x2="815.3" y1="415.3" y2="415.3" stroke="#6a6a6a" stroke-width="1"/>
<line x1="814.8" x2="818.3" y1="396.91" y2="396.91" stroke="#6a6a6a" stroke-width="0.8"/>
<text x="820" y="400.01" font-size="8.2" fill="#404040" textLength="27.6" lengthAdjust="spacingAndGlyphs">1120.00</text>
<line x1="814.8" x2="818.3" y1="366.94" y2="366.94" stroke="#6a6a6a" stroke-width="0.8"/>
<text x="820" y="370.04" font-size="8.2" fill="#404040" textLength="27.6" lengthAdjust="spacingAndGlyphs">1140.00</text>
<line x1="814.8" x2="818.3" y1="336.97" y2="336.97" stroke="#6a6a6a" stroke-width="0.8"/>
<text x="820" y="340.07" font-size="8.2" fill="#404040" textLength="27.6" lengthAdjust="spacingAndGlyphs">1160.00</text>
<line x1="814.8" x2="818.3" y1="307.00" y2="307.00" stroke="#6a6a6a" stroke-width="0.8"/>
<text x="820" y="310.10" font-size="8.2" fill="#404040" textLength="27.6" lengthAdjust="spacingAndGlyphs">1180.00</text>
<line x1="814.8" x2="818.3" y1="277.03" y2="277.03" stroke="#6a6a6a" stroke-width="0.8"/>
<text x="820" y="280.13" font-size="8.2" fill="#404040" textLength="27.6" lengthAdjust="spacingAndGlyphs">1200.00</text>
<line x1="814.8" x2="818.3" y1="247.06" y2="247.06" stroke="#6a6a6a" stroke-width="0.8"/>
<text x="820" y="250.16" font-size="8.2" fill="#404040" textLength="27.6" lengthAdjust="spacingAndGlyphs">1220.00</text>
<line x1="814.8" x2="818.3" y1="217.09" y2="217.09" stroke="#6a6a6a" stroke-width="0.8"/>
<text x="820" y="220.19" font-size="8.2" fill="#404040" textLength="27.6" lengthAdjust="spacingAndGlyphs">1240.00</text>
<line x1="814.8" x2="818.3" y1="187.12" y2="187.12" stroke="#6a6a6a" stroke-width="0.8"/>
<text x="820" y="190.22" font-size="8.2" fill="#404040" textLength="27.6" lengthAdjust="spacingAndGlyphs">1260.00</text>
<line x1="814.8" x2="818.3" y1="157.15" y2="157.15" stroke="#6a6a6a" stroke-width="0.8"/>
<text x="820" y="160.25" font-size="8.2" fill="#404040" textLength="27.6" lengthAdjust="spacingAndGlyphs">1280.00</text>
<line x1="814.8" x2="818.3" y1="127.18" y2="127.18" stroke="#6a6a6a" stroke-width="0.8"/>
<text x="820" y="130.28" font-size="8.2" fill="#404040" textLength="27.6" lengthAdjust="spacingAndGlyphs">1300.00</text>
<line x1="814.8" x2="818.3" y1="97.21" y2="97.21" stroke="#6a6a6a" stroke-width="0.8"/>
<text x="820" y="100.31" font-size="8.2" fill="#404040" textLength="27.6" lengthAdjust="spacingAndGlyphs">1320.00</text>
<line x1="814.8" x2="818.3" y1="67.24" y2="67.24" stroke="#6a6a6a" stroke-width="0.8"/>
<text x="820" y="70.34" font-size="8.2" fill="#404040" textLength="27.6" lengthAdjust="spacingAndGlyphs">1340.00</text>
<line x1="814.8" x2="818.3" y1="37.27" y2="37.27" stroke="#6a6a6a" stroke-width="0.8"/>
<text x="820" y="40.37" font-size="8.2" fill="#404040" textLength="27.6" lengthAdjust="spacingAndGlyphs">1360.00</text>
<line x1="814.8" x2="818.3" y1="7.30" y2="7.30" stroke="#6a6a6a" stroke-width="0.8"/>
<text x="820" y="10.40" font-size="8.2" fill="#404040" textLength="27.6" lengthAdjust="spacingAndGlyphs">1380.00</text>
<line x1="15.3" x2="15.3" y1="415.3" y2="418.3" stroke="#6a6a6a" stroke-width="0.8"/>
<text x="15.3" y="425.9" text-anchor="middle" font-size="8" fill="#404040">Сен</text>
<line x1="111" x2="111" y1="415.3" y2="418.3" stroke="#6a6a6a" stroke-width="0.8"/>
<text x="111" y="425.9" text-anchor="middle" font-size="8" fill="#404040">Ноя</text>
<line x1="208" x2="208" y1="415.3" y2="418.3" stroke="#6a6a6a" stroke-width="0.8"/>
<text x="208" y="425.9" text-anchor="middle" font-size="8" fill="#404040">2017</text>
<line x1="302.6" x2="302.6" y1="415.3" y2="418.3" stroke="#6a6a6a" stroke-width="0.8"/>
<text x="302.6" y="425.9" text-anchor="middle" font-size="8" fill="#404040">Мар</text>
<line x1="398.2" x2="398.2" y1="415.3" y2="418.3" stroke="#6a6a6a" stroke-width="0.8"/>
<text x="398.2" y="425.9" text-anchor="middle" font-size="8" fill="#404040">Май</text>
<line x1="498.8" x2="498.8" y1="415.3" y2="418.3" stroke="#6a6a6a" stroke-width="0.8"/>
<text x="498.8" y="425.9" text-anchor="middle" font-size="8" fill="#404040">Июл</text>
<line x1="596.6" x2="596.6" y1="415.3" y2="418.3" stroke="#6a6a6a" stroke-width="0.8"/>
<text x="596.6" y="425.9" text-anchor="middle" font-size="8" fill="#404040">Сен</text>
<line x1="692" x2="692" y1="415.3" y2="418.3" stroke="#6a6a6a" stroke-width="0.8"/>
<text x="692" y="425.9" text-anchor="middle" font-size="8" fill="#404040">Ноя</text>
<line x1="787.4" x2="787.4" y1="415.3" y2="418.3" stroke="#6a6a6a" stroke-width="0.8"/>
<text x="787.4" y="425.9" text-anchor="middle" font-size="8" fill="#404040">2018</text>
<rect x="815.0999999999999" y="148.6" width="35.200000000000045" height="10.4" fill="#000"/>
<text x="820" y="156.8" font-size="8.4" fill="#fff" textLength="27.8" lengthAdjust="spacingAndGlyphs">1282.65</text>
<rect x="0" y="428.6" width="850" height="1.4" fill="#e6eaee"/>
<rect x="3.5" y="9" width="7.7" height="7.2" fill="#fff" stroke="#666" stroke-width="0.9"/>
<line x1="4.8" x2="9.9" y1="12.6" y2="12.6" stroke="#555" stroke-width="0.8"/>
<text x="16.3" y="16.5" font-size="11.3" fill="#555" textLength="69" lengthAdjust="spacingAndGlyphs">XAU/USD, Д,</text>
<polygon points="89.2,11 94.3,11 91.75,13.9" fill="#b8bcc0"/>
<rect x="101.9" y="7.1" width="9.9" height="9.8" fill="#e1e1e1"/>
<ellipse cx="106.85000000000001" cy="12" rx="3.6" ry="2.8" fill="#fff"/>
<circle cx="106.85000000000001" cy="12" r="1.5" fill="#e4e4e4"/>
<circle cx="106.85000000000001" cy="12" r="0.6" fill="#fff"/>
<rect x="114" y="7.1" width="9.9" height="9.8" fill="#e1e1e1"/>
<circle cx="118.95" cy="12" r="2.9" fill="none" stroke="#fff" stroke-width="1.5" stroke-dasharray="1.3 0.98"/>
<circle cx="118.95" cy="12" r="2.4" fill="#fff"/>
<circle cx="118.95" cy="12" r="1.1" fill="#e1e1e1"/>
</svg></body></html>
